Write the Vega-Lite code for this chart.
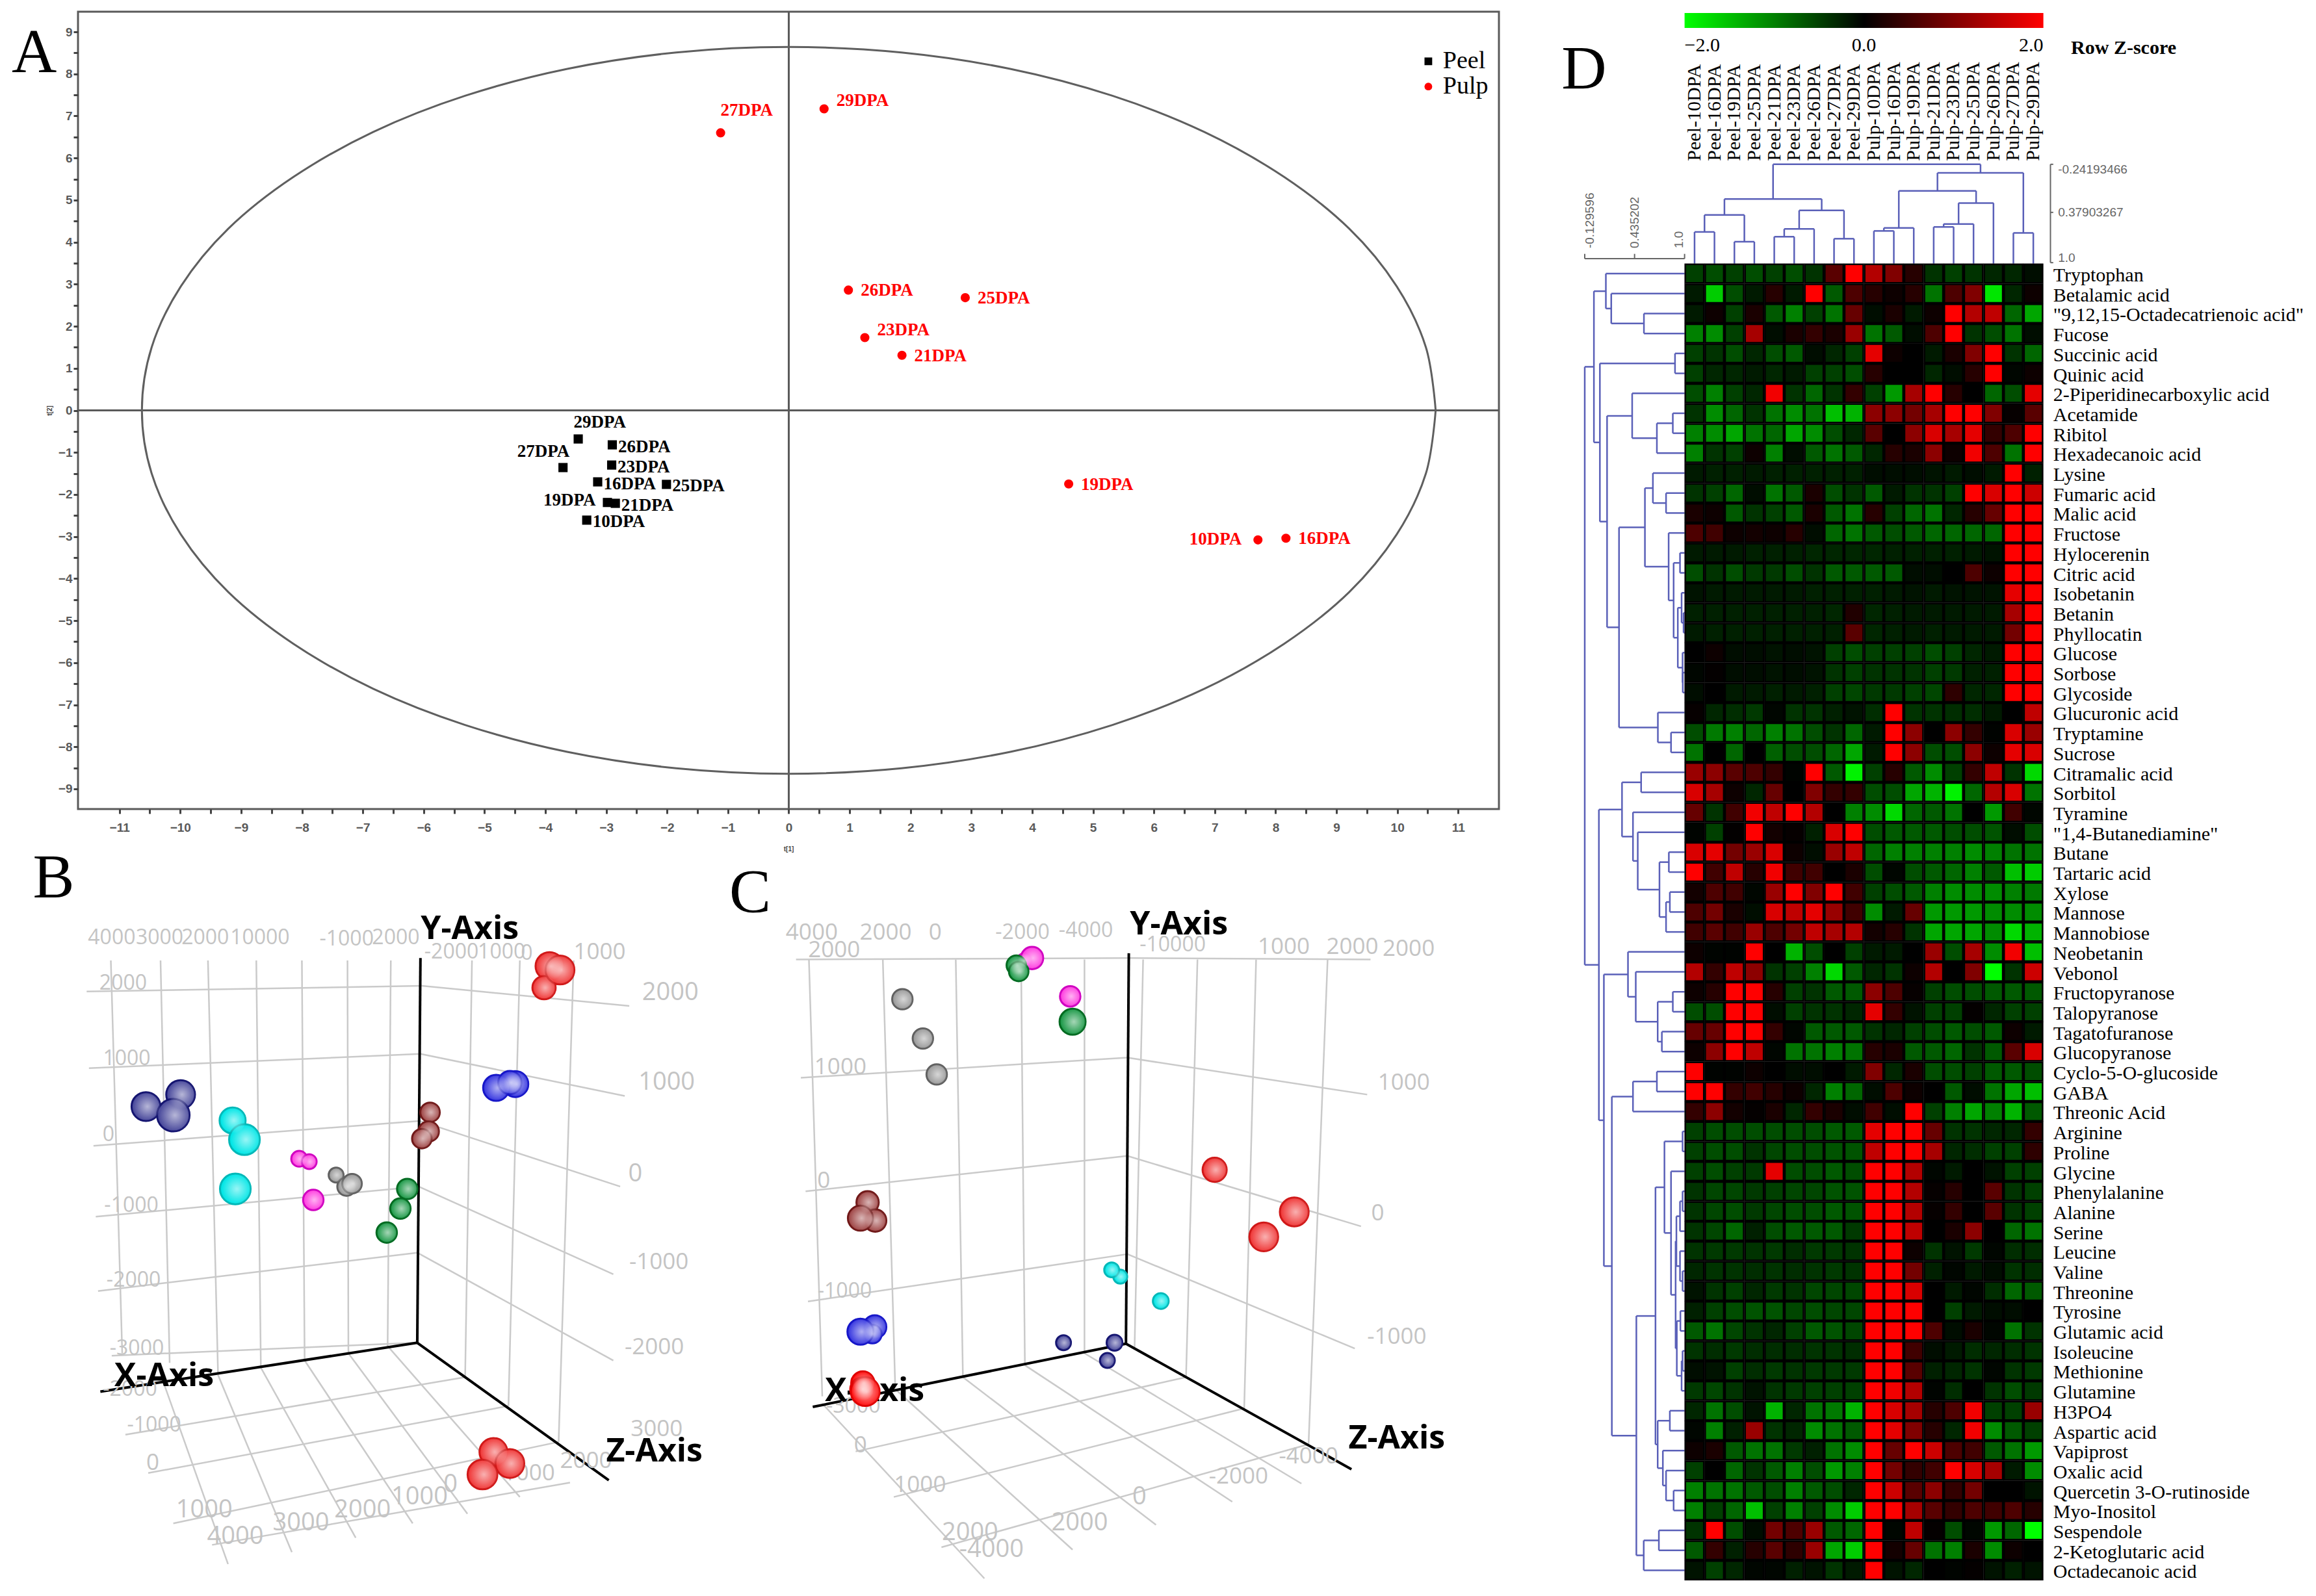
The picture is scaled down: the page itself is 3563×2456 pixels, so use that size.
{"$schema":"https://vega.github.io/schema/vega-lite/v6.json","padding":{"left":16,"top":15,"right":0,"bottom":0},"background":"white","config":{"view":{"stroke":null},"axis":{"grid":false}},
"datasets":{
"samples":[{"col":1,"name":"Peel-10DPA"},{"col":2,"name":"Peel-16DPA"},{"col":3,"name":"Peel-19DPA"},{"col":4,"name":"Peel-25DPA"},{"col":5,"name":"Peel-21DPA"},{"col":6,"name":"Peel-23DPA"},{"col":7,"name":"Peel-26DPA"},{"col":8,"name":"Peel-27DPA"},{"col":9,"name":"Peel-29DPA"},{"col":10,"name":"Pulp-10DPA"},{"col":11,"name":"Pulp-16DPA"},{"col":12,"name":"Pulp-19DPA"},{"col":13,"name":"Pulp-21DPA"},{"col":14,"name":"Pulp-23DPA"},{"col":15,"name":"Pulp-25DPA"},{"col":16,"name":"Pulp-26DPA"},{"col":17,"name":"Pulp-27DPA"},{"col":18,"name":"Pulp-29DPA"}],
"metabolites":[{"row":1,"name":"Tryptophan"},{"row":2,"name":"Betalamic acid"},{"row":3,"name":"\"9,12,15-Octadecatrienoic acid\""},{"row":4,"name":"Fucose"},{"row":5,"name":"Succinic acid"},{"row":6,"name":"Quinic acid"},{"row":7,"name":"2-Piperidinecarboxylic acid"},{"row":8,"name":"Acetamide"},{"row":9,"name":"Ribitol"},{"row":10,"name":"Hexadecanoic acid"},{"row":11,"name":"Lysine"},{"row":12,"name":"Fumaric acid"},{"row":13,"name":"Malic acid"},{"row":14,"name":"Fructose"},{"row":15,"name":"Hylocerenin"},{"row":16,"name":"Citric acid"},{"row":17,"name":"Isobetanin"},{"row":18,"name":"Betanin"},{"row":19,"name":"Phyllocatin"},{"row":20,"name":"Glucose"},{"row":21,"name":"Sorbose"},{"row":22,"name":"Glycoside"},{"row":23,"name":"Glucuronic acid"},{"row":24,"name":"Tryptamine"},{"row":25,"name":"Sucrose"},{"row":26,"name":"Citramalic acid"},{"row":27,"name":"Sorbitol"},{"row":28,"name":"Tyramine"},{"row":29,"name":"\"1,4-Butanediamine\""},{"row":30,"name":"Butane"},{"row":31,"name":"Tartaric acid"},{"row":32,"name":"Xylose"},{"row":33,"name":"Mannose"},{"row":34,"name":"Mannobiose"},{"row":35,"name":"Neobetanin"},{"row":36,"name":"Vebonol"},{"row":37,"name":"Fructopyranose"},{"row":38,"name":"Talopyranose"},{"row":39,"name":"Tagatofuranose"},{"row":40,"name":"Glucopyranose"},{"row":41,"name":"Cyclo-5-O-glucoside"},{"row":42,"name":"GABA"},{"row":43,"name":"Threonic Acid"},{"row":44,"name":"Arginine"},{"row":45,"name":"Proline"},{"row":46,"name":"Glycine"},{"row":47,"name":"Phenylalanine"},{"row":48,"name":"Alanine"},{"row":49,"name":"Serine"},{"row":50,"name":"Leucine"},{"row":51,"name":"Valine"},{"row":52,"name":"Threonine"},{"row":53,"name":"Tyrosine"},{"row":54,"name":"Glutamic acid"},{"row":55,"name":"Isoleucine"},{"row":56,"name":"Methionine"},{"row":57,"name":"Glutamine"},{"row":58,"name":"H3PO4"},{"row":59,"name":"Aspartic acid"},{"row":60,"name":"Vapiprost"},{"row":61,"name":"Oxalic acid"},{"row":62,"name":"Quercetin 3-O-rutinoside"},{"row":63,"name":"Myo-Inositol"},{"row":64,"name":"Sespendole"},{"row":65,"name":"2-Ketoglutaric acid"},{"row":66,"name":"Octadecanoic acid"}],
"rowTree":[{"m":-1.54,"a":3,"xa":0.5,"b":4,"xb":0.5},{"m":-3.18,"a":2,"xa":0.5,"b":3.5,"xb":-1.54},{"m":-3.45,"a":1,"xa":0.5,"b":2.75,"xb":-3.18},{"m":0.02,"a":5,"xa":0.5,"b":6,"xb":0.5},{"m":-0.09,"a":8,"xa":0.5,"b":9,"xb":0.5},{"m":-0.89,"a":8.5,"xa":-0.09,"b":10,"xb":0.5},{"m":-2.13,"a":7,"xa":0.5,"b":9.25,"xb":-0.89},{"m":-0.43,"a":12,"xa":0.5,"b":13,"xb":0.5},{"m":-1.09,"a":11,"xa":0.5,"b":12.5,"xb":-0.43},{"m":0.27,"a":15,"xa":0.5,"b":16,"xb":0.5},{"m":0.45,"a":18,"xa":0.5,"b":19,"xb":0.5},{"m":0.35,"a":17,"xa":0.5,"b":18.5,"xb":0.45},{"m":0.41,"a":21,"xa":0.5,"b":22,"xb":0.5},{"m":0.4,"a":20,"xa":0.5,"b":21.5,"xb":0.41},{"m":0.16,"a":17.75,"xa":0.35,"b":20.75,"xb":0.4},{"m":-0.05,"a":15.5,"xa":0.27,"b":19.25,"xb":0.16},{"m":-0.3,"a":14,"xa":0.5,"b":17.38,"xb":-0.05},{"m":-1.49,"a":11.75,"xa":-1.09,"b":15.69,"xb":-0.3},{"m":-0.18,"a":24,"xa":0.5,"b":25,"xb":0.5},{"m":-0.84,"a":23,"xa":0.5,"b":24.5,"xb":-0.18},{"m":-2.79,"a":13.72,"xa":-1.49,"b":23.75,"xb":-0.84},{"m":-3.39,"a":8.13,"xa":-2.13,"b":18.73,"xb":-2.79},{"m":-3.75,"a":5.5,"xa":0.02,"b":13.43,"xb":-3.39},{"m":-4.05,"a":1.88,"xa":-3.45,"b":9.46,"xb":-3.75},{"m":-1.68,"a":26,"xa":0.5,"b":27,"xb":0.5},{"m":-0.29,"a":30,"xa":0.5,"b":31,"xb":0.5},{"m":-0.24,"a":32,"xa":0.5,"b":33,"xb":0.5},{"m":-0.43,"a":32.5,"xa":-0.24,"b":34,"xb":0.5},{"m":-0.76,"a":30.5,"xa":-0.29,"b":33.25,"xb":-0.43},{"m":-1.85,"a":29,"xa":0.5,"b":31.88,"xb":-0.76},{"m":-2.09,"a":28,"xa":0.5,"b":30.44,"xb":-1.85},{"m":-2.64,"a":26.5,"xa":-1.68,"b":29.22,"xb":-2.09},{"m":-0.09,"a":37,"xa":0.5,"b":38,"xb":0.5},{"m":-0.64,"a":39,"xa":0.5,"b":40,"xb":0.5},{"m":-0.85,"a":37.5,"xa":-0.09,"b":39.5,"xb":-0.64},{"m":-1.95,"a":36,"xa":0.5,"b":38.5,"xb":-0.85},{"m":-2.34,"a":35,"xa":0.5,"b":37.25,"xb":-1.95},{"m":-0.89,"a":41,"xa":0.5,"b":42,"xb":0.5},{"m":-2.09,"a":41.5,"xa":-0.89,"b":43,"xb":0.5},{"m":0.4,"a":44,"xa":0.5,"b":45,"xb":0.5},{"m":0.4,"a":47,"xa":0.5,"b":48,"xb":0.5},{"m":0.27,"a":47.5,"xa":0.4,"b":49,"xb":0.5},{"m":0.4,"a":51,"xa":0.5,"b":52,"xb":0.5},{"m":0.27,"a":50,"xa":0.5,"b":51.5,"xb":0.4},{"m":0.09,"a":48.25,"xa":0.27,"b":50.75,"xb":0.27},{"m":0.29,"a":53,"xa":0.5,"b":54,"xb":0.5},{"m":0.4,"a":55,"xa":0.5,"b":56,"xb":0.5},{"m":0.35,"a":55.5,"xa":0.4,"b":57,"xb":0.5},{"m":0.11,"a":53.5,"xa":0.29,"b":56.25,"xb":0.35},{"m":0.05,"a":49.5,"xa":0.09,"b":54.88,"xb":0.11},{"m":-0.18,"a":46,"xa":0.5,"b":52.19,"xb":0.05},{"m":-0.51,"a":44.5,"xa":0.4,"b":49.09,"xb":-0.18},{"m":-0.24,"a":58,"xa":0.5,"b":59,"xb":0.5},{"m":-0.05,"a":62,"xa":0.5,"b":63,"xb":0.5},{"m":-0.43,"a":61,"xa":0.5,"b":62.5,"xb":-0.05},{"m":-0.59,"a":60,"xa":0.5,"b":61.75,"xb":-0.43},{"m":-0.85,"a":58.5,"xa":-0.24,"b":60.88,"xb":-0.59},{"m":-0.96,"a":46.8,"xa":-0.51,"b":59.69,"xb":-0.85},{"m":-0.79,"a":64,"xa":0.5,"b":65,"xb":0.5},{"m":-1.55,"a":64.5,"xa":-0.79,"b":66,"xb":0.5},{"m":-1.92,"a":53.25,"xa":-0.96,"b":65.25,"xb":-1.55},{"m":-3.15,"a":42.25,"xa":-2.09,"b":59.25,"xb":-1.92},{"m":-3.55,"a":36.13,"xa":-2.34,"b":50.75,"xb":-3.15},{"m":-3.8,"a":27.86,"xa":-2.64,"b":43.44,"xb":-3.55},{"m":-4.51,"a":5.67,"xa":-4.05,"b":35.65,"xb":-3.8}],
"colTree":[{"m":-1.09,"a":1,"ya":0.5,"b":2,"yb":0.5},{"m":-0.6,"a":3,"ya":0.5,"b":4,"yb":0.5},{"m":-1.94,"a":1.5,"ya":-1.09,"b":3.5,"yb":-0.6},{"m":-0.85,"a":5,"ya":0.5,"b":6,"yb":0.5},{"m":-1.24,"a":5.5,"ya":-0.85,"b":7,"yb":0.5},{"m":-0.75,"a":8,"ya":0.5,"b":9,"yb":0.5},{"m":-2.17,"a":6.25,"ya":-1.24,"b":8.5,"yb":-0.75},{"m":-2.74,"a":2.5,"ya":-1.94,"b":7.38,"yb":-2.17},{"m":-1.14,"a":10,"ya":0.5,"b":11,"yb":0.5},{"m":-1.29,"a":10.5,"ya":-1.14,"b":12,"yb":0.5},{"m":-1.34,"a":13,"ya":0.5,"b":14,"yb":0.5},{"m":-1.49,"a":13.5,"ya":-1.34,"b":15,"yb":0.5},{"m":-2.54,"a":14.25,"ya":-1.49,"b":16,"yb":0.5},{"m":-3.15,"a":11.25,"ya":-1.29,"b":15.13,"yb":-2.54},{"m":-1.04,"a":17,"ya":0.5,"b":18,"yb":0.5},{"m":-4.05,"a":13.19,"ya":-3.15,"b":17.5,"yb":-1.04},{"m":-4.48,"a":4.94,"ya":-2.74,"b":15.35,"yb":-4.05}],
"cells":[
{"row":1,"col":1,"z":-0.5},{"row":1,"col":2,"z":-0.6},{"row":1,"col":3,"z":-0.5},{"row":1,"col":4,"z":-0.6},{"row":1,"col":5,"z":-0.5},{"row":1,"col":6,"z":-0.6},{"row":1,"col":7,"z":-0.4},{"row":1,"col":8,"z":0.7},{"row":1,"col":9,"z":2},{"row":1,"col":10,"z":1.4},{"row":1,"col":11,"z":1},{"row":1,"col":12,"z":0.3},{"row":1,"col":13,"z":-0.4},{"row":1,"col":14,"z":-0.5},{"row":1,"col":15,"z":-0.4},{"row":1,"col":16,"z":-0.3},{"row":1,"col":17,"z":-0.3},{"row":1,"col":18,"z":-0.1},
{"row":2,"col":1,"z":-0.2},{"row":2,"col":2,"z":-1.6},{"row":2,"col":3,"z":-0.6},{"row":2,"col":4,"z":-0.2},{"row":2,"col":5,"z":0.3},{"row":2,"col":6,"z":-0.2},{"row":2,"col":7,"z":2},{"row":2,"col":8,"z":-0.7},{"row":2,"col":9,"z":0.6},{"row":2,"col":10,"z":0.3},{"row":2,"col":11,"z":0.1},{"row":2,"col":12,"z":0.3},{"row":2,"col":13,"z":-0.9},{"row":2,"col":14,"z":0.6},{"row":2,"col":15,"z":1},{"row":2,"col":16,"z":-1.8},{"row":2,"col":17,"z":-0.3},{"row":2,"col":18,"z":0.1},
{"row":3,"col":1,"z":-0.2},{"row":3,"col":2,"z":0.1},{"row":3,"col":3,"z":-0.5},{"row":3,"col":4,"z":0.2},{"row":3,"col":5,"z":-0.7},{"row":3,"col":6,"z":-1},{"row":3,"col":7,"z":-0.5},{"row":3,"col":8,"z":-0.9},{"row":3,"col":9,"z":0.8},{"row":3,"col":10,"z":-0.1},{"row":3,"col":11,"z":0.2},{"row":3,"col":12,"z":-0.2},{"row":3,"col":13,"z":0.1},{"row":3,"col":14,"z":2},{"row":3,"col":15,"z":1.4},{"row":3,"col":16,"z":1.5},{"row":3,"col":17,"z":-0.8},{"row":3,"col":18,"z":-1.3},
{"row":4,"col":1,"z":-1},{"row":4,"col":2,"z":-1.1},{"row":4,"col":3,"z":-0.5},{"row":4,"col":4,"z":1.3},{"row":4,"col":5,"z":-0.1},{"row":4,"col":6,"z":0.2},{"row":4,"col":7,"z":0.4},{"row":4,"col":8,"z":0.2},{"row":4,"col":9,"z":1.2},{"row":4,"col":10,"z":-0.9},{"row":4,"col":11,"z":-0.7},{"row":4,"col":12,"z":-0.1},{"row":4,"col":13,"z":0.6},{"row":4,"col":14,"z":2},{"row":4,"col":15,"z":-0.4},{"row":4,"col":16,"z":-0.6},{"row":4,"col":17,"z":-0.9},{"row":4,"col":18,"z":-0.1},
{"row":5,"col":1,"z":-0.5},{"row":5,"col":2,"z":-0.4},{"row":5,"col":3,"z":-0.6},{"row":5,"col":4,"z":-0.3},{"row":5,"col":5,"z":-0.6},{"row":5,"col":6,"z":-0.7},{"row":5,"col":7,"z":-0.1},{"row":5,"col":8,"z":-0.3},{"row":5,"col":9,"z":-0.5},{"row":5,"col":10,"z":1.8},{"row":5,"col":11,"z":0.1},{"row":5,"col":12,"z":0},{"row":5,"col":13,"z":-0.2},{"row":5,"col":14,"z":0.2},{"row":5,"col":15,"z":1},{"row":5,"col":16,"z":2},{"row":5,"col":17,"z":-0.4},{"row":5,"col":18,"z":-0.8},
{"row":6,"col":1,"z":-0.5},{"row":6,"col":2,"z":-0.3},{"row":6,"col":3,"z":-0.3},{"row":6,"col":4,"z":-0.2},{"row":6,"col":5,"z":-0.3},{"row":6,"col":6,"z":-0.2},{"row":6,"col":7,"z":-0.5},{"row":6,"col":8,"z":-0.5},{"row":6,"col":9,"z":-0.6},{"row":6,"col":10,"z":0.3},{"row":6,"col":11,"z":0},{"row":6,"col":12,"z":0},{"row":6,"col":13,"z":-0.3},{"row":6,"col":14,"z":-0.1},{"row":6,"col":15,"z":0.3},{"row":6,"col":16,"z":2},{"row":6,"col":17,"z":-0.05},{"row":6,"col":18,"z":0.1},
{"row":7,"col":1,"z":-0.6},{"row":7,"col":2,"z":-1},{"row":7,"col":3,"z":-0.5},{"row":7,"col":4,"z":-0.3},{"row":7,"col":5,"z":1.9},{"row":7,"col":6,"z":-0.4},{"row":7,"col":7,"z":-0.8},{"row":7,"col":8,"z":-0.4},{"row":7,"col":9,"z":0.4},{"row":7,"col":10,"z":-0.5},{"row":7,"col":11,"z":-1.2},{"row":7,"col":12,"z":1.3},{"row":7,"col":13,"z":2},{"row":7,"col":14,"z":0.3},{"row":7,"col":15,"z":0},{"row":7,"col":16,"z":-0.8},{"row":7,"col":17,"z":-0.6},{"row":7,"col":18,"z":1.8},
{"row":8,"col":1,"z":-0.4},{"row":8,"col":2,"z":-1.1},{"row":8,"col":3,"z":-0.8},{"row":8,"col":4,"z":-0.4},{"row":8,"col":5,"z":-0.9},{"row":8,"col":6,"z":-1.1},{"row":8,"col":7,"z":-0.9},{"row":8,"col":8,"z":-1.5},{"row":8,"col":9,"z":-1.4},{"row":8,"col":10,"z":1.1},{"row":8,"col":11,"z":1.1},{"row":8,"col":12,"z":0.9},{"row":8,"col":13,"z":1.3},{"row":8,"col":14,"z":2},{"row":8,"col":15,"z":2},{"row":8,"col":16,"z":1},{"row":8,"col":17,"z":0.05},{"row":8,"col":18,"z":0.7},
{"row":9,"col":1,"z":-1},{"row":9,"col":2,"z":-1.1},{"row":9,"col":3,"z":-1.3},{"row":9,"col":4,"z":-0.9},{"row":9,"col":5,"z":-0.8},{"row":9,"col":6,"z":-1.3},{"row":9,"col":7,"z":-1.1},{"row":9,"col":8,"z":-0.6},{"row":9,"col":9,"z":-0.3},{"row":9,"col":10,"z":0.7},{"row":9,"col":11,"z":0},{"row":9,"col":12,"z":1.1},{"row":9,"col":13,"z":1.7},{"row":9,"col":14,"z":1.3},{"row":9,"col":15,"z":1.8},{"row":9,"col":16,"z":0.4},{"row":9,"col":17,"z":0.6},{"row":9,"col":18,"z":2},
{"row":10,"col":1,"z":-1},{"row":10,"col":2,"z":-0.4},{"row":10,"col":3,"z":-0.5},{"row":10,"col":4,"z":0.1},{"row":10,"col":5,"z":-1},{"row":10,"col":6,"z":-0.1},{"row":10,"col":7,"z":-0.7},{"row":10,"col":8,"z":-0.9},{"row":10,"col":9,"z":-0.7},{"row":10,"col":10,"z":-0.3},{"row":10,"col":11,"z":0.3},{"row":10,"col":12,"z":0.2},{"row":10,"col":13,"z":1.1},{"row":10,"col":14,"z":0.1},{"row":10,"col":15,"z":1.9},{"row":10,"col":16,"z":0.6},{"row":10,"col":17,"z":-0.9},{"row":10,"col":18,"z":2},
{"row":11,"col":1,"z":-0.2},{"row":11,"col":2,"z":-0.25},{"row":11,"col":3,"z":-0.25},{"row":11,"col":4,"z":-0.2},{"row":11,"col":5,"z":-0.25},{"row":11,"col":6,"z":-0.25},{"row":11,"col":7,"z":-0.25},{"row":11,"col":8,"z":-0.25},{"row":11,"col":9,"z":-0.25},{"row":11,"col":10,"z":-0.1},{"row":11,"col":11,"z":-0.1},{"row":11,"col":12,"z":-0.1},{"row":11,"col":13,"z":-0.15},{"row":11,"col":14,"z":-0.2},{"row":11,"col":15,"z":-0.1},{"row":11,"col":16,"z":-0.2},{"row":11,"col":17,"z":2},{"row":11,"col":18,"z":-0.25},
{"row":12,"col":1,"z":-0.4},{"row":12,"col":2,"z":-0.5},{"row":12,"col":3,"z":-0.8},{"row":12,"col":4,"z":-0.1},{"row":12,"col":5,"z":-0.9},{"row":12,"col":6,"z":-0.7},{"row":12,"col":7,"z":0.2},{"row":12,"col":8,"z":-0.6},{"row":12,"col":9,"z":-0.4},{"row":12,"col":10,"z":-0.7},{"row":12,"col":11,"z":-0.2},{"row":12,"col":12,"z":-0.4},{"row":12,"col":13,"z":-0.4},{"row":12,"col":14,"z":-0.5},{"row":12,"col":15,"z":2},{"row":12,"col":16,"z":1.7},{"row":12,"col":17,"z":2},{"row":12,"col":18,"z":1.6},
{"row":13,"col":1,"z":0.2},{"row":13,"col":2,"z":0.1},{"row":13,"col":3,"z":-0.7},{"row":13,"col":4,"z":-0.4},{"row":13,"col":5,"z":-0.5},{"row":13,"col":6,"z":-0.7},{"row":13,"col":7,"z":0.2},{"row":13,"col":8,"z":-0.7},{"row":13,"col":9,"z":-0.9},{"row":13,"col":10,"z":0.3},{"row":13,"col":11,"z":-0.5},{"row":13,"col":12,"z":-0.8},{"row":13,"col":13,"z":-0.9},{"row":13,"col":14,"z":-0.3},{"row":13,"col":15,"z":0.3},{"row":13,"col":16,"z":0.8},{"row":13,"col":17,"z":2},{"row":13,"col":18,"z":2},
{"row":14,"col":1,"z":0.6},{"row":14,"col":2,"z":0.5},{"row":14,"col":3,"z":0.1},{"row":14,"col":4,"z":0.15},{"row":14,"col":5,"z":0.1},{"row":14,"col":6,"z":0.3},{"row":14,"col":7,"z":-0.1},{"row":14,"col":8,"z":-0.8},{"row":14,"col":9,"z":-0.9},{"row":14,"col":10,"z":-0.7},{"row":14,"col":11,"z":-0.6},{"row":14,"col":12,"z":-0.7},{"row":14,"col":13,"z":-0.8},{"row":14,"col":14,"z":-0.8},{"row":14,"col":15,"z":-0.8},{"row":14,"col":16,"z":-0.8},{"row":14,"col":17,"z":2},{"row":14,"col":18,"z":2},
{"row":15,"col":1,"z":-0.2},{"row":15,"col":2,"z":-0.2},{"row":15,"col":3,"z":-0.2},{"row":15,"col":4,"z":-0.25},{"row":15,"col":5,"z":-0.25},{"row":15,"col":6,"z":-0.25},{"row":15,"col":7,"z":-0.3},{"row":15,"col":8,"z":-0.3},{"row":15,"col":9,"z":-0.3},{"row":15,"col":10,"z":-0.3},{"row":15,"col":11,"z":-0.25},{"row":15,"col":12,"z":-0.25},{"row":15,"col":13,"z":-0.25},{"row":15,"col":14,"z":-0.25},{"row":15,"col":15,"z":-0.2},{"row":15,"col":16,"z":-0.15},{"row":15,"col":17,"z":2},{"row":15,"col":18,"z":2},
{"row":16,"col":1,"z":-0.6},{"row":16,"col":2,"z":-0.4},{"row":16,"col":3,"z":-0.6},{"row":16,"col":4,"z":-0.45},{"row":16,"col":5,"z":-0.45},{"row":16,"col":6,"z":-0.6},{"row":16,"col":7,"z":-0.4},{"row":16,"col":8,"z":-0.7},{"row":16,"col":9,"z":-0.7},{"row":16,"col":10,"z":-0.7},{"row":16,"col":11,"z":-0.7},{"row":16,"col":12,"z":-0.1},{"row":16,"col":13,"z":-0.1},{"row":16,"col":14,"z":0},{"row":16,"col":15,"z":0.6},{"row":16,"col":16,"z":0.1},{"row":16,"col":17,"z":2},{"row":16,"col":18,"z":2},
{"row":17,"col":1,"z":-0.15},{"row":17,"col":2,"z":-0.2},{"row":17,"col":3,"z":-0.2},{"row":17,"col":4,"z":-0.2},{"row":17,"col":5,"z":-0.2},{"row":17,"col":6,"z":-0.2},{"row":17,"col":7,"z":-0.25},{"row":17,"col":8,"z":-0.25},{"row":17,"col":9,"z":-0.25},{"row":17,"col":10,"z":-0.25},{"row":17,"col":11,"z":-0.2},{"row":17,"col":12,"z":-0.15},{"row":17,"col":13,"z":-0.2},{"row":17,"col":14,"z":-0.15},{"row":17,"col":15,"z":-0.15},{"row":17,"col":16,"z":-0.15},{"row":17,"col":17,"z":1.8},{"row":17,"col":18,"z":2},
{"row":18,"col":1,"z":-0.25},{"row":18,"col":2,"z":-0.25},{"row":18,"col":3,"z":-0.25},{"row":18,"col":4,"z":-0.25},{"row":18,"col":5,"z":-0.25},{"row":18,"col":6,"z":-0.25},{"row":18,"col":7,"z":-0.25},{"row":18,"col":8,"z":-0.3},{"row":18,"col":9,"z":0.25},{"row":18,"col":10,"z":-0.3},{"row":18,"col":11,"z":-0.25},{"row":18,"col":12,"z":-0.2},{"row":18,"col":13,"z":-0.2},{"row":18,"col":14,"z":-0.2},{"row":18,"col":15,"z":-0.2},{"row":18,"col":16,"z":-0.2},{"row":18,"col":17,"z":1.3},{"row":18,"col":18,"z":2},
{"row":19,"col":1,"z":-0.2},{"row":19,"col":2,"z":-0.25},{"row":19,"col":3,"z":-0.25},{"row":19,"col":4,"z":-0.25},{"row":19,"col":5,"z":-0.25},{"row":19,"col":6,"z":-0.25},{"row":19,"col":7,"z":-0.25},{"row":19,"col":8,"z":-0.25},{"row":19,"col":9,"z":0.7},{"row":19,"col":10,"z":-0.3},{"row":19,"col":11,"z":-0.25},{"row":19,"col":12,"z":-0.2},{"row":19,"col":13,"z":-0.25},{"row":19,"col":14,"z":-0.2},{"row":19,"col":15,"z":-0.2},{"row":19,"col":16,"z":-0.2},{"row":19,"col":17,"z":0.9},{"row":19,"col":18,"z":2},
{"row":20,"col":1,"z":0},{"row":20,"col":2,"z":0.1},{"row":20,"col":3,"z":-0.1},{"row":20,"col":4,"z":-0.1},{"row":20,"col":5,"z":-0.15},{"row":20,"col":6,"z":-0.1},{"row":20,"col":7,"z":-0.15},{"row":20,"col":8,"z":-0.5},{"row":20,"col":9,"z":-0.6},{"row":20,"col":10,"z":-0.5},{"row":20,"col":11,"z":-0.5},{"row":20,"col":12,"z":-0.5},{"row":20,"col":13,"z":-0.6},{"row":20,"col":14,"z":-0.5},{"row":20,"col":15,"z":-0.3},{"row":20,"col":16,"z":-0.2},{"row":20,"col":17,"z":2},{"row":20,"col":18,"z":2},
{"row":21,"col":1,"z":-0.05},{"row":21,"col":2,"z":0.03},{"row":21,"col":3,"z":-0.1},{"row":21,"col":4,"z":-0.1},{"row":21,"col":5,"z":-0.15},{"row":21,"col":6,"z":-0.1},{"row":21,"col":7,"z":-0.15},{"row":21,"col":8,"z":-0.4},{"row":21,"col":9,"z":-0.5},{"row":21,"col":10,"z":-0.4},{"row":21,"col":11,"z":-0.4},{"row":21,"col":12,"z":-0.4},{"row":21,"col":13,"z":-0.5},{"row":21,"col":14,"z":-0.45},{"row":21,"col":15,"z":-0.25},{"row":21,"col":16,"z":-0.25},{"row":21,"col":17,"z":2},{"row":21,"col":18,"z":2},
{"row":22,"col":1,"z":-0.1},{"row":22,"col":2,"z":0},{"row":22,"col":3,"z":-0.2},{"row":22,"col":4,"z":-0.2},{"row":22,"col":5,"z":-0.25},{"row":22,"col":6,"z":-0.2},{"row":22,"col":7,"z":-0.25},{"row":22,"col":8,"z":-0.5},{"row":22,"col":9,"z":-0.55},{"row":22,"col":10,"z":-0.45},{"row":22,"col":11,"z":-0.45},{"row":22,"col":12,"z":-0.5},{"row":22,"col":13,"z":-0.55},{"row":22,"col":14,"z":0.35},{"row":22,"col":15,"z":-0.3},{"row":22,"col":16,"z":-0.3},{"row":22,"col":17,"z":2},{"row":22,"col":18,"z":2},
{"row":23,"col":1,"z":0.05},{"row":23,"col":2,"z":-0.3},{"row":23,"col":3,"z":-0.35},{"row":23,"col":4,"z":-0.45},{"row":23,"col":5,"z":-0.05},{"row":23,"col":6,"z":-0.4},{"row":23,"col":7,"z":-0.4},{"row":23,"col":8,"z":-0.25},{"row":23,"col":9,"z":-0.15},{"row":23,"col":10,"z":-0.35},{"row":23,"col":11,"z":2},{"row":23,"col":12,"z":-0.4},{"row":23,"col":13,"z":-0.4},{"row":23,"col":14,"z":-0.35},{"row":23,"col":15,"z":-0.35},{"row":23,"col":16,"z":-0.2},{"row":23,"col":17,"z":0},{"row":23,"col":18,"z":1.5},
{"row":24,"col":1,"z":-0.6},{"row":24,"col":2,"z":-0.95},{"row":24,"col":3,"z":-1},{"row":24,"col":4,"z":-0.8},{"row":24,"col":5,"z":-1},{"row":24,"col":6,"z":-0.9},{"row":24,"col":7,"z":-0.6},{"row":24,"col":8,"z":-0.4},{"row":24,"col":9,"z":-0.8},{"row":24,"col":10,"z":-0.2},{"row":24,"col":11,"z":2},{"row":24,"col":12,"z":1.1},{"row":24,"col":13,"z":0},{"row":24,"col":14,"z":1.1},{"row":24,"col":15,"z":0.4},{"row":24,"col":16,"z":-0.02},{"row":24,"col":17,"z":1.7},{"row":24,"col":18,"z":1.2},
{"row":25,"col":1,"z":-0.9},{"row":25,"col":2,"z":0},{"row":25,"col":3,"z":-0.8},{"row":25,"col":4,"z":0},{"row":25,"col":5,"z":-0.75},{"row":25,"col":6,"z":-0.6},{"row":25,"col":7,"z":-0.6},{"row":25,"col":8,"z":-0.8},{"row":25,"col":9,"z":-1.3},{"row":25,"col":10,"z":-0.2},{"row":25,"col":11,"z":2},{"row":25,"col":12,"z":1.1},{"row":25,"col":13,"z":-0.6},{"row":25,"col":14,"z":-0.6},{"row":25,"col":15,"z":1.1},{"row":25,"col":16,"z":0.1},{"row":25,"col":17,"z":1.8},{"row":25,"col":18,"z":1.7},
{"row":26,"col":1,"z":1.2},{"row":26,"col":2,"z":1.1},{"row":26,"col":3,"z":0.7},{"row":26,"col":4,"z":0.6},{"row":26,"col":5,"z":0.4},{"row":26,"col":6,"z":-0.03},{"row":26,"col":7,"z":2},{"row":26,"col":8,"z":-0.7},{"row":26,"col":9,"z":-1.9},{"row":26,"col":10,"z":-0.5},{"row":26,"col":11,"z":0.3},{"row":26,"col":12,"z":-0.7},{"row":26,"col":13,"z":-1.1},{"row":26,"col":14,"z":-0.5},{"row":26,"col":15,"z":0.4},{"row":26,"col":16,"z":1.5},{"row":26,"col":17,"z":-0.4},{"row":26,"col":18,"z":-1.7},
{"row":27,"col":1,"z":1.7},{"row":27,"col":2,"z":1.3},{"row":27,"col":3,"z":0.1},{"row":27,"col":4,"z":-0.3},{"row":27,"col":5,"z":0.8},{"row":27,"col":6,"z":0},{"row":27,"col":7,"z":1},{"row":27,"col":8,"z":0.4},{"row":27,"col":9,"z":0.4},{"row":27,"col":10,"z":-0.6},{"row":27,"col":11,"z":-0.6},{"row":27,"col":12,"z":-1.3},{"row":27,"col":13,"z":-1.4},{"row":27,"col":14,"z":-1.9},{"row":27,"col":15,"z":-0.8},{"row":27,"col":16,"z":1.4},{"row":27,"col":17,"z":1.7},{"row":27,"col":18,"z":-0.9},
{"row":28,"col":1,"z":0.8},{"row":28,"col":2,"z":-0.4},{"row":28,"col":3,"z":0.5},{"row":28,"col":4,"z":1.9},{"row":28,"col":5,"z":1.5},{"row":28,"col":6,"z":2},{"row":28,"col":7,"z":1.4},{"row":28,"col":8,"z":0},{"row":28,"col":9,"z":-1},{"row":28,"col":10,"z":-1.1},{"row":28,"col":11,"z":-1.7},{"row":28,"col":12,"z":-0.8},{"row":28,"col":13,"z":-0.7},{"row":28,"col":14,"z":-0.9},{"row":28,"col":15,"z":0},{"row":28,"col":16,"z":-1.2},{"row":28,"col":17,"z":0.5},{"row":28,"col":18,"z":-0.05},
{"row":29,"col":1,"z":-0.03},{"row":29,"col":2,"z":-0.5},{"row":29,"col":3,"z":0.02},{"row":29,"col":4,"z":2},{"row":29,"col":5,"z":0.15},{"row":29,"col":6,"z":0.05},{"row":29,"col":7,"z":-0.25},{"row":29,"col":8,"z":1.7},{"row":29,"col":9,"z":2},{"row":29,"col":10,"z":-0.6},{"row":29,"col":11,"z":-0.7},{"row":29,"col":12,"z":-0.7},{"row":29,"col":13,"z":-0.7},{"row":29,"col":14,"z":-0.6},{"row":29,"col":15,"z":-0.6},{"row":29,"col":16,"z":-0.65},{"row":29,"col":17,"z":-0.1},{"row":29,"col":18,"z":-0.6},
{"row":30,"col":1,"z":1.7},{"row":30,"col":2,"z":1.8},{"row":30,"col":3,"z":0.9},{"row":30,"col":4,"z":1.2},{"row":30,"col":5,"z":1.7},{"row":30,"col":6,"z":0.1},{"row":30,"col":7,"z":-0.1},{"row":30,"col":8,"z":1.2},{"row":30,"col":9,"z":1.5},{"row":30,"col":10,"z":-0.8},{"row":30,"col":11,"z":-1},{"row":30,"col":12,"z":-1},{"row":30,"col":13,"z":-1},{"row":30,"col":14,"z":-1},{"row":30,"col":15,"z":-1.1},{"row":30,"col":16,"z":-1},{"row":30,"col":17,"z":-0.9},{"row":30,"col":18,"z":-0.9},
{"row":31,"col":1,"z":2},{"row":31,"col":2,"z":0.5},{"row":31,"col":3,"z":1.5},{"row":31,"col":4,"z":0.3},{"row":31,"col":5,"z":1.9},{"row":31,"col":6,"z":0.5},{"row":31,"col":7,"z":0.5},{"row":31,"col":8,"z":0},{"row":31,"col":9,"z":0.2},{"row":31,"col":10,"z":-0.6},{"row":31,"col":11,"z":-0.05},{"row":31,"col":12,"z":-0.6},{"row":31,"col":13,"z":-0.7},{"row":31,"col":14,"z":-0.8},{"row":31,"col":15,"z":-1},{"row":31,"col":16,"z":-0.7},{"row":31,"col":17,"z":-1.5},{"row":31,"col":18,"z":-1.6},
{"row":32,"col":1,"z":0.15},{"row":32,"col":2,"z":0.6},{"row":32,"col":3,"z":0.5},{"row":32,"col":4,"z":-0.05},{"row":32,"col":5,"z":1.2},{"row":32,"col":6,"z":2},{"row":32,"col":7,"z":1},{"row":32,"col":8,"z":2},{"row":32,"col":9,"z":0.5},{"row":32,"col":10,"z":-0.5},{"row":32,"col":11,"z":-0.6},{"row":32,"col":12,"z":-0.7},{"row":32,"col":13,"z":-1},{"row":32,"col":14,"z":-1.1},{"row":32,"col":15,"z":-1.1},{"row":32,"col":16,"z":-1.1},{"row":32,"col":17,"z":-1},{"row":32,"col":18,"z":-0.95},
{"row":33,"col":1,"z":0.6},{"row":33,"col":2,"z":0.9},{"row":33,"col":3,"z":0.2},{"row":33,"col":4,"z":-0.1},{"row":33,"col":5,"z":1.7},{"row":33,"col":6,"z":1.5},{"row":33,"col":7,"z":1.8},{"row":33,"col":8,"z":1.2},{"row":33,"col":9,"z":0.5},{"row":33,"col":10,"z":-1.1},{"row":33,"col":11,"z":-0.2},{"row":33,"col":12,"z":0.8},{"row":33,"col":13,"z":-1.2},{"row":33,"col":14,"z":-1.2},{"row":33,"col":15,"z":-1.2},{"row":33,"col":16,"z":-1.1},{"row":33,"col":17,"z":-1.1},{"row":33,"col":18,"z":-1.1},
{"row":34,"col":1,"z":0.5},{"row":34,"col":2,"z":0.7},{"row":34,"col":3,"z":0.5},{"row":34,"col":4,"z":1.2},{"row":34,"col":5,"z":0.6},{"row":34,"col":6,"z":0.9},{"row":34,"col":7,"z":1.5},{"row":34,"col":8,"z":1.3},{"row":34,"col":9,"z":1.4},{"row":34,"col":10,"z":0.15},{"row":34,"col":11,"z":0.3},{"row":34,"col":12,"z":-0.4},{"row":34,"col":13,"z":-1.3},{"row":34,"col":14,"z":-1.3},{"row":34,"col":15,"z":-1.3},{"row":34,"col":16,"z":-1.1},{"row":34,"col":17,"z":-1.7},{"row":34,"col":18,"z":-1.4},
{"row":35,"col":1,"z":0.1},{"row":35,"col":2,"z":-0.03},{"row":35,"col":3,"z":-0.02},{"row":35,"col":4,"z":2},{"row":35,"col":5,"z":0},{"row":35,"col":6,"z":-1.4},{"row":35,"col":7,"z":-0.6},{"row":35,"col":8,"z":0},{"row":35,"col":9,"z":-0.5},{"row":35,"col":10,"z":-0.2},{"row":35,"col":11,"z":-0.2},{"row":35,"col":12,"z":0},{"row":35,"col":13,"z":1.2},{"row":35,"col":14,"z":-0.6},{"row":35,"col":15,"z":1.3},{"row":35,"col":16,"z":-1.1},{"row":35,"col":17,"z":1.9},{"row":35,"col":18,"z":-1.5},
{"row":36,"col":1,"z":1.4},{"row":36,"col":2,"z":0.4},{"row":36,"col":3,"z":1.5},{"row":36,"col":4,"z":1.1},{"row":36,"col":5,"z":-0.4},{"row":36,"col":6,"z":-0.5},{"row":36,"col":7,"z":-1},{"row":36,"col":8,"z":-1.7},{"row":36,"col":9,"z":-0.7},{"row":36,"col":10,"z":-0.3},{"row":36,"col":11,"z":-0.4},{"row":36,"col":12,"z":0.1},{"row":36,"col":13,"z":1.4},{"row":36,"col":14,"z":0},{"row":36,"col":15,"z":1},{"row":36,"col":16,"z":-2},{"row":36,"col":17,"z":-0.4},{"row":36,"col":18,"z":1.6},
{"row":37,"col":1,"z":0.1},{"row":37,"col":2,"z":0.3},{"row":37,"col":3,"z":2},{"row":37,"col":4,"z":2},{"row":37,"col":5,"z":0.3},{"row":37,"col":6,"z":-0.5},{"row":37,"col":7,"z":-0.4},{"row":37,"col":8,"z":-0.7},{"row":37,"col":9,"z":-0.7},{"row":37,"col":10,"z":1.1},{"row":37,"col":11,"z":0.6},{"row":37,"col":12,"z":0.05},{"row":37,"col":13,"z":-0.5},{"row":37,"col":14,"z":-0.6},{"row":37,"col":15,"z":-0.6},{"row":37,"col":16,"z":-0.7},{"row":37,"col":17,"z":-0.7},{"row":37,"col":18,"z":-0.7},
{"row":38,"col":1,"z":-0.6},{"row":38,"col":2,"z":-0.6},{"row":38,"col":3,"z":2},{"row":38,"col":4,"z":2},{"row":38,"col":5,"z":-0.1},{"row":38,"col":6,"z":-0.5},{"row":38,"col":7,"z":-0.4},{"row":38,"col":8,"z":-0.4},{"row":38,"col":9,"z":-0.3},{"row":38,"col":10,"z":1.8},{"row":38,"col":11,"z":0.4},{"row":38,"col":12,"z":-0.15},{"row":38,"col":13,"z":-0.5},{"row":38,"col":14,"z":-0.5},{"row":38,"col":15,"z":0.03},{"row":38,"col":16,"z":-0.3},{"row":38,"col":17,"z":-0.5},{"row":38,"col":18,"z":-0.5},
{"row":39,"col":1,"z":0.8},{"row":39,"col":2,"z":0.8},{"row":39,"col":3,"z":2},{"row":39,"col":4,"z":2},{"row":39,"col":5,"z":0.4},{"row":39,"col":6,"z":-0.05},{"row":39,"col":7,"z":-0.7},{"row":39,"col":8,"z":-0.7},{"row":39,"col":9,"z":-0.7},{"row":39,"col":10,"z":-0.4},{"row":39,"col":11,"z":-0.3},{"row":39,"col":12,"z":-0.5},{"row":39,"col":13,"z":-0.6},{"row":39,"col":14,"z":-0.7},{"row":39,"col":15,"z":-0.6},{"row":39,"col":16,"z":-0.7},{"row":39,"col":17,"z":0.1},{"row":39,"col":18,"z":-0.2},
{"row":40,"col":1,"z":0.1},{"row":40,"col":2,"z":1.1},{"row":40,"col":3,"z":2},{"row":40,"col":4,"z":1.5},{"row":40,"col":5,"z":-0.05},{"row":40,"col":6,"z":-0.9},{"row":40,"col":7,"z":-0.9},{"row":40,"col":8,"z":-1},{"row":40,"col":9,"z":-0.9},{"row":40,"col":10,"z":0.3},{"row":40,"col":11,"z":0.2},{"row":40,"col":12,"z":-0.7},{"row":40,"col":13,"z":-0.7},{"row":40,"col":14,"z":-0.8},{"row":40,"col":15,"z":-0.4},{"row":40,"col":16,"z":-0.7},{"row":40,"col":17,"z":0.7},{"row":40,"col":18,"z":1.7},
{"row":41,"col":1,"z":2},{"row":41,"col":2,"z":-0.02},{"row":41,"col":3,"z":-0.02},{"row":41,"col":4,"z":0.1},{"row":41,"col":5,"z":0},{"row":41,"col":6,"z":-0.1},{"row":41,"col":7,"z":-0.1},{"row":41,"col":8,"z":0},{"row":41,"col":9,"z":-0.2},{"row":41,"col":10,"z":1},{"row":41,"col":11,"z":-0.3},{"row":41,"col":12,"z":0.2},{"row":41,"col":13,"z":-0.6},{"row":41,"col":14,"z":-0.6},{"row":41,"col":15,"z":-0.5},{"row":41,"col":16,"z":-0.7},{"row":41,"col":17,"z":-0.7},{"row":41,"col":18,"z":-0.6},
{"row":42,"col":1,"z":2},{"row":42,"col":2,"z":2},{"row":42,"col":3,"z":0.4},{"row":42,"col":4,"z":0.5},{"row":42,"col":5,"z":0.3},{"row":42,"col":6,"z":0.1},{"row":42,"col":7,"z":-0.3},{"row":42,"col":8,"z":-1},{"row":42,"col":9,"z":-0.8},{"row":42,"col":10,"z":-0.1},{"row":42,"col":11,"z":0.6},{"row":42,"col":12,"z":0.1},{"row":42,"col":13,"z":0},{"row":42,"col":14,"z":-0.7},{"row":42,"col":15,"z":-0.1},{"row":42,"col":16,"z":-0.9},{"row":42,"col":17,"z":-1.3},{"row":42,"col":18,"z":-1.5},
{"row":43,"col":1,"z":0.4},{"row":43,"col":2,"z":1.1},{"row":43,"col":3,"z":0.15},{"row":43,"col":4,"z":0.03},{"row":43,"col":5,"z":0.2},{"row":43,"col":6,"z":-0.3},{"row":43,"col":7,"z":0.4},{"row":43,"col":8,"z":0.2},{"row":43,"col":9,"z":-0.1},{"row":43,"col":10,"z":0.5},{"row":43,"col":11,"z":-0.1},{"row":43,"col":12,"z":2},{"row":43,"col":13,"z":-0.5},{"row":43,"col":14,"z":-1},{"row":43,"col":15,"z":-1.3},{"row":43,"col":16,"z":-1},{"row":43,"col":17,"z":-1.4},{"row":43,"col":18,"z":-0.7},
{"row":44,"col":1,"z":-0.5},{"row":44,"col":2,"z":-0.6},{"row":44,"col":3,"z":-0.6},{"row":44,"col":4,"z":-0.6},{"row":44,"col":5,"z":-0.6},{"row":44,"col":6,"z":-0.6},{"row":44,"col":7,"z":-0.6},{"row":44,"col":8,"z":-0.7},{"row":44,"col":9,"z":-0.7},{"row":44,"col":10,"z":1.8},{"row":44,"col":11,"z":2},{"row":44,"col":12,"z":2},{"row":44,"col":13,"z":0.8},{"row":44,"col":14,"z":-0.4},{"row":44,"col":15,"z":-0.4},{"row":44,"col":16,"z":-0.3},{"row":44,"col":17,"z":-0.3},{"row":44,"col":18,"z":0.4},
{"row":45,"col":1,"z":-0.5},{"row":45,"col":2,"z":-0.6},{"row":45,"col":3,"z":-0.6},{"row":45,"col":4,"z":-0.4},{"row":45,"col":5,"z":-0.55},{"row":45,"col":6,"z":-0.6},{"row":45,"col":7,"z":-0.6},{"row":45,"col":8,"z":-0.65},{"row":45,"col":9,"z":-0.65},{"row":45,"col":10,"z":1.5},{"row":45,"col":11,"z":2},{"row":45,"col":12,"z":2},{"row":45,"col":13,"z":1.3},{"row":45,"col":14,"z":-0.3},{"row":45,"col":15,"z":-0.35},{"row":45,"col":16,"z":-0.5},{"row":45,"col":17,"z":-0.5},{"row":45,"col":18,"z":0.35},
{"row":46,"col":1,"z":-0.5},{"row":46,"col":2,"z":-0.6},{"row":46,"col":3,"z":-0.5},{"row":46,"col":4,"z":-0.45},{"row":46,"col":5,"z":1.8},{"row":46,"col":6,"z":-0.6},{"row":46,"col":7,"z":-0.6},{"row":46,"col":8,"z":-0.7},{"row":46,"col":9,"z":-0.6},{"row":46,"col":10,"z":2},{"row":46,"col":11,"z":2},{"row":46,"col":12,"z":1.4},{"row":46,"col":13,"z":-0.05},{"row":46,"col":14,"z":-0.2},{"row":46,"col":15,"z":0},{"row":46,"col":16,"z":-0.15},{"row":46,"col":17,"z":-0.5},{"row":46,"col":18,"z":-0.5},
{"row":47,"col":1,"z":-0.4},{"row":47,"col":2,"z":-0.55},{"row":47,"col":3,"z":-0.55},{"row":47,"col":4,"z":-0.45},{"row":47,"col":5,"z":-0.5},{"row":47,"col":6,"z":-0.55},{"row":47,"col":7,"z":-0.55},{"row":47,"col":8,"z":-0.65},{"row":47,"col":9,"z":-0.65},{"row":47,"col":10,"z":2},{"row":47,"col":11,"z":2},{"row":47,"col":12,"z":1.4},{"row":47,"col":13,"z":0.05},{"row":47,"col":14,"z":0.3},{"row":47,"col":15,"z":0},{"row":47,"col":16,"z":0.7},{"row":47,"col":17,"z":-0.4},{"row":47,"col":18,"z":-0.5},
{"row":48,"col":1,"z":-0.4},{"row":48,"col":2,"z":-0.55},{"row":48,"col":3,"z":-0.6},{"row":48,"col":4,"z":-0.45},{"row":48,"col":5,"z":-0.55},{"row":48,"col":6,"z":-0.6},{"row":48,"col":7,"z":-0.6},{"row":48,"col":8,"z":-0.7},{"row":48,"col":9,"z":-0.65},{"row":48,"col":10,"z":2},{"row":48,"col":11,"z":2},{"row":48,"col":12,"z":1.4},{"row":48,"col":13,"z":0.05},{"row":48,"col":14,"z":0.4},{"row":48,"col":15,"z":0},{"row":48,"col":16,"z":0.7},{"row":48,"col":17,"z":-0.4},{"row":48,"col":18,"z":-0.5},
{"row":49,"col":1,"z":-0.4},{"row":49,"col":2,"z":-0.55},{"row":49,"col":3,"z":-0.8},{"row":49,"col":4,"z":-0.25},{"row":49,"col":5,"z":-0.6},{"row":49,"col":6,"z":-0.7},{"row":49,"col":7,"z":-0.7},{"row":49,"col":8,"z":-0.7},{"row":49,"col":9,"z":-0.45},{"row":49,"col":10,"z":2},{"row":49,"col":11,"z":2},{"row":49,"col":12,"z":1.5},{"row":49,"col":13,"z":0},{"row":49,"col":14,"z":0.2},{"row":49,"col":15,"z":1.1},{"row":49,"col":16,"z":0},{"row":49,"col":17,"z":-0.8},{"row":49,"col":18,"z":-0.9},
{"row":50,"col":1,"z":-0.4},{"row":50,"col":2,"z":-0.45},{"row":50,"col":3,"z":-0.45},{"row":50,"col":4,"z":-0.4},{"row":50,"col":5,"z":-0.45},{"row":50,"col":6,"z":-0.35},{"row":50,"col":7,"z":-0.45},{"row":50,"col":8,"z":-0.45},{"row":50,"col":9,"z":-0.4},{"row":50,"col":10,"z":2},{"row":50,"col":11,"z":2},{"row":50,"col":12,"z":0.1},{"row":50,"col":13,"z":-0.4},{"row":50,"col":14,"z":-0.15},{"row":50,"col":15,"z":-0.45},{"row":50,"col":16,"z":-0.05},{"row":50,"col":17,"z":-0.35},{"row":50,"col":18,"z":-0.35},
{"row":51,"col":1,"z":-0.3},{"row":51,"col":2,"z":-0.4},{"row":51,"col":3,"z":-0.4},{"row":51,"col":4,"z":-0.35},{"row":51,"col":5,"z":-0.4},{"row":51,"col":6,"z":-0.35},{"row":51,"col":7,"z":-0.4},{"row":51,"col":8,"z":-0.45},{"row":51,"col":9,"z":-0.4},{"row":51,"col":10,"z":2},{"row":51,"col":11,"z":2},{"row":51,"col":12,"z":0.9},{"row":51,"col":13,"z":-0.25},{"row":51,"col":14,"z":-0.05},{"row":51,"col":15,"z":-0.2},{"row":51,"col":16,"z":-0.1},{"row":51,"col":17,"z":-0.4},{"row":51,"col":18,"z":-0.35},
{"row":52,"col":1,"z":-0.15},{"row":52,"col":2,"z":-0.4},{"row":52,"col":3,"z":-0.5},{"row":52,"col":4,"z":-0.3},{"row":52,"col":5,"z":-0.45},{"row":52,"col":6,"z":-0.4},{"row":52,"col":7,"z":-0.55},{"row":52,"col":8,"z":-0.55},{"row":52,"col":9,"z":-0.55},{"row":52,"col":10,"z":2},{"row":52,"col":11,"z":2},{"row":52,"col":12,"z":1.7},{"row":52,"col":13,"z":0},{"row":52,"col":14,"z":-0.2},{"row":52,"col":15,"z":-0.05},{"row":52,"col":16,"z":-0.35},{"row":52,"col":17,"z":-0.8},{"row":52,"col":18,"z":-0.7},
{"row":53,"col":1,"z":-0.25},{"row":53,"col":2,"z":-0.5},{"row":53,"col":3,"z":-0.6},{"row":53,"col":4,"z":-0.65},{"row":53,"col":5,"z":-0.65},{"row":53,"col":6,"z":-0.55},{"row":53,"col":7,"z":-0.6},{"row":53,"col":8,"z":-0.55},{"row":53,"col":9,"z":-0.55},{"row":53,"col":10,"z":2},{"row":53,"col":11,"z":2},{"row":53,"col":12,"z":2},{"row":53,"col":13,"z":0},{"row":53,"col":14,"z":-0.5},{"row":53,"col":15,"z":-0.2},{"row":53,"col":16,"z":-0.1},{"row":53,"col":17,"z":-0.1},{"row":53,"col":18,"z":0},
{"row":54,"col":1,"z":-0.7},{"row":54,"col":2,"z":-0.9},{"row":54,"col":3,"z":-0.55},{"row":54,"col":4,"z":-0.4},{"row":54,"col":5,"z":-0.3},{"row":54,"col":6,"z":-0.5},{"row":54,"col":7,"z":-0.7},{"row":54,"col":8,"z":-0.65},{"row":54,"col":9,"z":-0.55},{"row":54,"col":10,"z":2},{"row":54,"col":11,"z":2},{"row":54,"col":12,"z":2},{"row":54,"col":13,"z":0.6},{"row":54,"col":14,"z":-0.1},{"row":54,"col":15,"z":0.2},{"row":54,"col":16,"z":-0.05},{"row":54,"col":17,"z":-0.9},{"row":54,"col":18,"z":-0.4},
{"row":55,"col":1,"z":-0.4},{"row":55,"col":2,"z":-0.35},{"row":55,"col":3,"z":-0.45},{"row":55,"col":4,"z":-0.35},{"row":55,"col":5,"z":-0.35},{"row":55,"col":6,"z":-0.35},{"row":55,"col":7,"z":-0.4},{"row":55,"col":8,"z":-0.4},{"row":55,"col":9,"z":-0.35},{"row":55,"col":10,"z":2},{"row":55,"col":11,"z":2},{"row":55,"col":12,"z":0.5},{"row":55,"col":13,"z":-0.1},{"row":55,"col":14,"z":-0.2},{"row":55,"col":15,"z":-0.35},{"row":55,"col":16,"z":-0.3},{"row":55,"col":17,"z":-0.35},{"row":55,"col":18,"z":-0.4},
{"row":56,"col":1,"z":-0.1},{"row":56,"col":2,"z":-0.15},{"row":56,"col":3,"z":-0.5},{"row":56,"col":4,"z":-0.35},{"row":56,"col":5,"z":-0.45},{"row":56,"col":6,"z":-0.4},{"row":56,"col":7,"z":-0.45},{"row":56,"col":8,"z":-0.45},{"row":56,"col":9,"z":-0.45},{"row":56,"col":10,"z":2},{"row":56,"col":11,"z":2},{"row":56,"col":12,"z":0.7},{"row":56,"col":13,"z":-0.25},{"row":56,"col":14,"z":-0.3},{"row":56,"col":15,"z":-0.4},{"row":56,"col":16,"z":-0.05},{"row":56,"col":17,"z":-0.4},{"row":56,"col":18,"z":-0.45},
{"row":57,"col":1,"z":-0.45},{"row":57,"col":2,"z":-0.55},{"row":57,"col":3,"z":-0.4},{"row":57,"col":4,"z":-0.15},{"row":57,"col":5,"z":-0.4},{"row":57,"col":6,"z":-0.45},{"row":57,"col":7,"z":-0.5},{"row":57,"col":8,"z":-0.5},{"row":57,"col":9,"z":-0.5},{"row":57,"col":10,"z":2},{"row":57,"col":11,"z":1.9},{"row":57,"col":12,"z":1.4},{"row":57,"col":13,"z":-0.03},{"row":57,"col":14,"z":-0.35},{"row":57,"col":15,"z":0},{"row":57,"col":16,"z":-0.4},{"row":57,"col":17,"z":-0.6},{"row":57,"col":18,"z":-0.45},
{"row":58,"col":1,"z":-0.3},{"row":58,"col":2,"z":-0.9},{"row":58,"col":3,"z":-0.6},{"row":58,"col":4,"z":-0.15},{"row":58,"col":5,"z":-1.4},{"row":58,"col":6,"z":-0.3},{"row":58,"col":7,"z":-0.9},{"row":58,"col":8,"z":-0.95},{"row":58,"col":9,"z":-1.4},{"row":58,"col":10,"z":2},{"row":58,"col":11,"z":1.7},{"row":58,"col":12,"z":1.3},{"row":58,"col":13,"z":0.3},{"row":58,"col":14,"z":0.6},{"row":58,"col":15,"z":1.9},{"row":58,"col":16,"z":-0.5},{"row":58,"col":17,"z":-0.5},{"row":58,"col":18,"z":1.2},
{"row":59,"col":1,"z":-0.05},{"row":59,"col":2,"z":-1},{"row":59,"col":3,"z":-0.25},{"row":59,"col":4,"z":1.2},{"row":59,"col":5,"z":-0.4},{"row":59,"col":6,"z":-0.3},{"row":59,"col":7,"z":-1.1},{"row":59,"col":8,"z":-0.9},{"row":59,"col":9,"z":-0.7},{"row":59,"col":10,"z":2},{"row":59,"col":11,"z":1.8},{"row":59,"col":12,"z":1},{"row":59,"col":13,"z":0.3},{"row":59,"col":14,"z":-0.3},{"row":59,"col":15,"z":1.9},{"row":59,"col":16,"z":-1.1},{"row":59,"col":17,"z":-0.7},{"row":59,"col":18,"z":-0.5},
{"row":60,"col":1,"z":0.1},{"row":60,"col":2,"z":0.2},{"row":60,"col":3,"z":-0.7},{"row":60,"col":4,"z":-0.9},{"row":60,"col":5,"z":-0.9},{"row":60,"col":6,"z":-0.45},{"row":60,"col":7,"z":-0.25},{"row":60,"col":8,"z":-0.9},{"row":60,"col":9,"z":-1.1},{"row":60,"col":10,"z":2},{"row":60,"col":11,"z":0.8},{"row":60,"col":12,"z":2},{"row":60,"col":13,"z":1.6},{"row":60,"col":14,"z":0.6},{"row":60,"col":15,"z":0.5},{"row":60,"col":16,"z":-0.7},{"row":60,"col":17,"z":-0.9},{"row":60,"col":18,"z":-1.2},
{"row":61,"col":1,"z":-0.5},{"row":61,"col":2,"z":0},{"row":61,"col":3,"z":-0.8},{"row":61,"col":4,"z":-0.4},{"row":61,"col":5,"z":-0.7},{"row":61,"col":6,"z":-1},{"row":61,"col":7,"z":-0.6},{"row":61,"col":8,"z":-1.2},{"row":61,"col":9,"z":-1},{"row":61,"col":10,"z":2},{"row":61,"col":11,"z":0.9},{"row":61,"col":12,"z":0.4},{"row":61,"col":13,"z":0.5},{"row":61,"col":14,"z":2},{"row":61,"col":15,"z":1.7},{"row":61,"col":16,"z":1.3},{"row":61,"col":17,"z":-0.2},{"row":61,"col":18,"z":-1.1},
{"row":62,"col":1,"z":-1},{"row":62,"col":2,"z":-0.9},{"row":62,"col":3,"z":-0.9},{"row":62,"col":4,"z":-0.7},{"row":62,"col":5,"z":-0.6},{"row":62,"col":6,"z":-1},{"row":62,"col":7,"z":-0.7},{"row":62,"col":8,"z":-0.6},{"row":62,"col":9,"z":-0.3},{"row":62,"col":10,"z":2},{"row":62,"col":11,"z":1.6},{"row":62,"col":12,"z":0.7},{"row":62,"col":13,"z":1.1},{"row":62,"col":14,"z":0.4},{"row":62,"col":15,"z":0.9},{"row":62,"col":16,"z":0},{"row":62,"col":17,"z":0},{"row":62,"col":18,"z":-0.15},
{"row":63,"col":1,"z":-1},{"row":63,"col":2,"z":-0.5},{"row":63,"col":3,"z":-0.8},{"row":63,"col":4,"z":-1.5},{"row":63,"col":5,"z":-0.5},{"row":63,"col":6,"z":-1},{"row":63,"col":7,"z":-0.5},{"row":63,"col":8,"z":-1.1},{"row":63,"col":9,"z":-1.6},{"row":63,"col":10,"z":2},{"row":63,"col":11,"z":2},{"row":63,"col":12,"z":1.3},{"row":63,"col":13,"z":0.7},{"row":63,"col":14,"z":0.4},{"row":63,"col":15,"z":0.6},{"row":63,"col":16,"z":0.5},{"row":63,"col":17,"z":0.6},{"row":63,"col":18,"z":0.3},
{"row":64,"col":1,"z":-0.4},{"row":64,"col":2,"z":2},{"row":64,"col":3,"z":-0.6},{"row":64,"col":4,"z":-0.1},{"row":64,"col":5,"z":0.9},{"row":64,"col":6,"z":0.6},{"row":64,"col":7,"z":1.2},{"row":64,"col":8,"z":-0.7},{"row":64,"col":9,"z":-0.8},{"row":64,"col":10,"z":2},{"row":64,"col":11,"z":-0.05},{"row":64,"col":12,"z":1.5},{"row":64,"col":13,"z":0.03},{"row":64,"col":14,"z":-0.6},{"row":64,"col":15,"z":-0.05},{"row":64,"col":16,"z":-1.2},{"row":64,"col":17,"z":-0.8},{"row":64,"col":18,"z":-2},
{"row":65,"col":1,"z":-0.7},{"row":65,"col":2,"z":0.4},{"row":65,"col":3,"z":-0.25},{"row":65,"col":4,"z":0.3},{"row":65,"col":5,"z":0.7},{"row":65,"col":6,"z":0.35},{"row":65,"col":7,"z":1.2},{"row":65,"col":8,"z":-1.3},{"row":65,"col":9,"z":-1.6},{"row":65,"col":10,"z":2},{"row":65,"col":11,"z":0.15},{"row":65,"col":12,"z":0.8},{"row":65,"col":13,"z":-0.9},{"row":65,"col":14,"z":-1},{"row":65,"col":15,"z":0.2},{"row":65,"col":16,"z":-1.1},{"row":65,"col":17,"z":0.1},{"row":65,"col":18,"z":0},
{"row":66,"col":1,"z":-0.15},{"row":66,"col":2,"z":-0.5},{"row":66,"col":3,"z":-0.3},{"row":66,"col":4,"z":-0.05},{"row":66,"col":5,"z":-0.05},{"row":66,"col":6,"z":-0.25},{"row":66,"col":7,"z":-0.15},{"row":66,"col":8,"z":-0.4},{"row":66,"col":9,"z":-0.2},{"row":66,"col":10,"z":2},{"row":66,"col":11,"z":-0.15},{"row":66,"col":12,"z":-0.3},{"row":66,"col":13,"z":0},{"row":66,"col":14,"z":-0.03},{"row":66,"col":15,"z":0.03},{"row":66,"col":16,"z":-0.15},{"row":66,"col":17,"z":-0.25},{"row":66,"col":18,"z":-0.15}
]},
"hconcat":[
{"vconcat":[
{"width":2186,"height":1227,"view":{"stroke":"#5a5a5a","strokeWidth":3},
"encoding":{"x":{"field":"x","type":"quantitative","scale":{"domain":[-11.68,11.67],"nice":false,"zero":false},"axis":{"title":"t[1]","titleFontSize":10,"titleColor":"#444","titlePadding":18,"values":[-11,-10.5,-10,-9.5,-9,-8.5,-8,-7.5,-7,-6.5,-6,-5.5,-5,-4.5,-4,-3.5,-3,-2.5,-2,-1.5,-1,-0.5,0,0.5,1,1.5,2,2.5,3,3.5,4,4.5,5,5.5,6,6.5,7,7.5,8,8.5,9,9.5,10,10.5,11],"labelExpr":"datum.value % 1 == 0 ? format(datum.value,'d') : ''","labelOverlap":false,"labelFontSize":19,"labelFontWeight":"bold","labelColor":"#5a5a5a","labelFont":"Liberation Sans","tickColor":"#444","tickWidth":3,"tickSize":7,"domain":false,"labelPadding":12}},
"y":{"field":"y","type":"quantitative","scale":{"domain":[-9.48,9.48],"nice":false,"zero":false},"axis":{"title":"t[2]","titleFontSize":10,"titleColor":"#444","titlePadding":8,"values":[-9,-8.5,-8,-7.5,-7,-6.5,-6,-5.5,-5,-4.5,-4,-3.5,-3,-2.5,-2,-1.5,-1,-0.5,0,0.5,1,1.5,2,2.5,3,3.5,4,4.5,5,5.5,6,6.5,7,7.5,8,8.5,9],"labelExpr":"datum.value % 1 == 0 ? format(datum.value,'d') : ''","labelOverlap":false,"labelFontSize":19,"labelFontWeight":"bold","labelColor":"#5a5a5a","labelFont":"Liberation Sans","tickColor":"#444","tickWidth":3,"tickSize":7,"domain":false,"labelPadding":2}}},
"data":{"values":[{"sample":"27DPA","tissue":"Pulp","x":-1.12,"y":6.6,"side":"above"},{"sample":"29DPA","tissue":"Pulp","x":0.58,"y":7.17,"side":"rightup"},{"sample":"26DPA","tissue":"Pulp","x":0.98,"y":2.86,"side":"right"},{"sample":"25DPA","tissue":"Pulp","x":2.9,"y":2.68,"side":"right"},{"sample":"23DPA","tissue":"Pulp","x":1.25,"y":1.73,"side":"rightup"},{"sample":"21DPA","tissue":"Pulp","x":1.86,"y":1.31,"side":"right"},{"sample":"19DPA","tissue":"Pulp","x":4.6,"y":-1.75,"side":"right"},{"sample":"10DPA","tissue":"Pulp","x":7.71,"y":-3.08,"side":"left"},{"sample":"16DPA","tissue":"Pulp","x":8.17,"y":-3.04,"side":"right"},{"sample":"29DPA","tissue":"Peel","x":-3.46,"y":-0.68,"side":"above"},{"sample":"26DPA","tissue":"Peel","x":-2.9,"y":-0.82,"side":"right"},{"sample":"27DPA","tissue":"Peel","x":-3.71,"y":-1.36,"side":"aboveleft"},{"sample":"23DPA","tissue":"Peel","x":-2.91,"y":-1.3,"side":"right"},{"sample":"16DPA","tissue":"Peel","x":-3.14,"y":-1.7,"side":"right"},{"sample":"25DPA","tissue":"Peel","x":-2.01,"y":-1.76,"side":"right"},{"sample":"19DPA","tissue":"Peel","x":-2.98,"y":-2.19,"side":"left"},{"sample":"21DPA","tissue":"Peel","x":-2.85,"y":-2.21,"side":"right"},{"sample":"10DPA","tissue":"Peel","x":-3.32,"y":-2.61,"side":"right"}]},
"layer":[
{"data":{"values":[{"x":0}]},"mark":{"type":"rule","color":"#5a5a5a","strokeWidth":3},"encoding":{"y":null}},
{"data":{"values":[{"y":0}]},"mark":{"type":"rule","color":"#5a5a5a","strokeWidth":3},"encoding":{"x":null}},
{"data":{"values":[{"k":0,"x":10.63,"y":0},{"k":10,"x":10.47,"y":1.5},{"k":20,"x":9.99,"y":2.95},{"k":30,"x":9.21,"y":4.32},{"k":40,"x":8.14,"y":5.55},{"k":50,"x":6.83,"y":6.62},{"k":60,"x":5.32,"y":7.48},{"k":70,"x":3.64,"y":8.12},{"k":80,"x":1.85,"y":8.51},{"k":90,"x":0,"y":8.64},{"k":100,"x":-1.85,"y":8.51},{"k":110,"x":-3.64,"y":8.12},{"k":120,"x":-5.32,"y":7.48},{"k":130,"x":-6.83,"y":6.62},{"k":140,"x":-8.14,"y":5.55},{"k":150,"x":-9.21,"y":4.32},{"k":160,"x":-9.99,"y":2.95},{"k":170,"x":-10.47,"y":1.5},{"k":180,"x":-10.63,"y":0},{"k":190,"x":-10.47,"y":-1.5},{"k":200,"x":-9.99,"y":-2.95},{"k":210,"x":-9.21,"y":-4.32},{"k":220,"x":-8.14,"y":-5.55},{"k":230,"x":-6.83,"y":-6.62},{"k":240,"x":-5.32,"y":-7.48},{"k":250,"x":-3.64,"y":-8.12},{"k":260,"x":-1.85,"y":-8.51},{"k":270,"x":0,"y":-8.64},{"k":280,"x":1.85,"y":-8.51},{"k":290,"x":3.64,"y":-8.12},{"k":300,"x":5.32,"y":-7.48},{"k":310,"x":6.83,"y":-6.62},{"k":320,"x":8.14,"y":-5.55},{"k":330,"x":9.21,"y":-4.32},{"k":340,"x":9.99,"y":-2.95},{"k":350,"x":10.47,"y":-1.5},{"k":360,"x":10.63,"y":0}]},"mark":{"type":"line","color":"#5f5f5f","strokeWidth":3,"interpolate":"cardinal"},"encoding":{"order":{"field":"k","type":"quantitative"}}},
{"mark":{"type":"point","filled":true,"size":200,"opacity":1},"encoding":{"color":{"field":"tissue","type":"nominal","scale":{"domain":["Peel","Pulp"],"range":["black","red"]},"legend":null},"shape":{"field":"tissue","type":"nominal","scale":{"domain":["Peel","Pulp"],"range":["square","circle"]},"legend":null}}},
{"data":{"values":[{"tissue":"Peel","x":10.51,"y":8.3},{"tissue":"Pulp","x":10.51,"y":7.7}]},"mark":{"type":"point","filled":true,"size":140,"opacity":1},"encoding":{"color":{"field":"tissue","type":"nominal","legend":null},"shape":{"field":"tissue","type":"nominal","legend":null}}},
{"data":{"values":[{"tissue":"Peel","x":10.75,"y":8.3},{"tissue":"Pulp","x":10.75,"y":7.7}]},"mark":{"type":"text","font":"Liberation Serif","fontSize":38,"color":"black","align":"left"},"encoding":{"text":{"field":"tissue"}}},
{"transform":[{"filter":"datum.tissue=='Pulp' && datum.side=='right'"}],"mark":{"type":"text","font":"Liberation Serif","fontWeight":"bold","fontSize":27,"color":"red","align":"left","dx":19,"dy":1},"encoding":{"text":{"field":"sample"}}},
{"transform":[{"filter":"datum.tissue=='Pulp' && datum.side=='rightup'"}],"mark":{"type":"text","font":"Liberation Serif","fontWeight":"bold","fontSize":27,"color":"red","align":"left","dx":19,"dy":-12},"encoding":{"text":{"field":"sample"}}},
{"transform":[{"filter":"datum.tissue=='Pulp' && datum.side=='left'"}],"mark":{"type":"text","font":"Liberation Serif","fontWeight":"bold","fontSize":27,"color":"red","align":"right","dx":-25,"dy":-1},"encoding":{"text":{"field":"sample"}}},
{"transform":[{"filter":"datum.tissue=='Pulp' && datum.side=='above'"}],"mark":{"type":"text","font":"Liberation Serif","fontWeight":"bold","fontSize":27,"color":"red","align":"left","dx":0,"dy":-34},"encoding":{"text":{"field":"sample"}}},
{"transform":[{"filter":"datum.tissue=='Peel' && datum.side=='right'"}],"mark":{"type":"text","font":"Liberation Serif","fontWeight":"bold","fontSize":27,"color":"black","align":"left","dx":9,"dy":3},"encoding":{"text":{"field":"sample"}}},
{"transform":[{"filter":"datum.tissue=='Peel' && datum.side=='left'"}],"mark":{"type":"text","font":"Liberation Serif","fontWeight":"bold","fontSize":27,"color":"black","align":"right","dx":-18,"dy":-3},"encoding":{"text":{"field":"sample"}}},
{"transform":[{"filter":"datum.tissue=='Peel' && datum.side=='above'"}],"mark":{"type":"text","font":"Liberation Serif","fontWeight":"bold","fontSize":27,"color":"black","align":"left","dx":-7,"dy":-26},"encoding":{"text":{"field":"sample"}}},
{"transform":[{"filter":"datum.side=='aboveleft'"}],"mark":{"type":"text","font":"Liberation Serif","fontWeight":"bold","fontSize":27,"color":"black","align":"right","dx":10,"dy":-25},"encoding":{"text":{"field":"sample"}}},
{"data":{"values":[{"label":"A","x":-12.77,"y":8.05}]},"mark":{"type":"text","font":"Liberation Serif","fontSize":96,"align":"left","baseline":"alphabetic","color":"black"},"encoding":{"text":{"field":"label"}}}
]},
{"hconcat":[
{"width":980,"height":1156,
"encoding":{"x":{"field":"x","type":"quantitative","axis":null,"scale":{"domain":[171,1568],"nice":false,"zero":false}},"y":{"field":"y","type":"quantitative","axis":null,"scale":{"domain":[1568,0],"nice":false,"zero":false}}},
"layer":[
{"data":{"values":[{"x":190,"y":305,"x2":925,"y2":293},{"x":195,"y":465,"x2":922,"y2":435},{"x":205,"y":627,"x2":920,"y2":575},{"x":210,"y":775,"x2":918,"y2":712},{"x":215,"y":930,"x2":915,"y2":850},{"x":245,"y":1065,"x2":912,"y2":1038},{"x":925,"y":293,"x2":1380,"y2":335},{"x":922,"y":435,"x2":1370,"y2":523},{"x":920,"y":575,"x2":1360,"y2":712},{"x":918,"y":712,"x2":1345,"y2":895},{"x":915,"y":850,"x2":1345,"y2":1075},{"x":243,"y":240,"x2":268,"y2":1060},{"x":352,"y":240,"x2":372,"y2":1080},{"x":456,"y":240,"x2":478,"y2":1100},{"x":562,"y":240,"x2":572,"y2":1090},{"x":662,"y":240,"x2":668,"y2":1075},{"x":762,"y":240,"x2":764,"y2":1060},{"x":857,"y":240,"x2":850,"y2":1045},{"x":1035,"y":240,"x2":1020,"y2":1110},{"x":1140,"y":240,"x2":1115,"y2":1170},{"x":1258,"y":240,"x2":1225,"y2":1245},{"x":360,"y":1125,"x2":500,"y2":1500},{"x":478,"y":1105,"x2":640,"y2":1475},{"x":572,"y":1090,"x2":780,"y2":1445},{"x":668,"y":1075,"x2":905,"y2":1415},{"x":764,"y":1060,"x2":1025,"y2":1395},{"x":850,"y":1045,"x2":1140,"y2":1360},{"x":1020,"y":1110,"x2":275,"y2":1230},{"x":1115,"y":1170,"x2":325,"y2":1310},{"x":1225,"y":1245,"x2":380,"y2":1415},{"x":1250,"y":1330,"x2":465,"y2":1460}]},"mark":{"type":"rule","color":"#cacaca","strokeWidth":2.5},"encoding":{"x2":{"field":"x2"},"y2":{"field":"y2"}}},
{"data":{"values":[{"x":220,"y":1140,"x2":915,"y2":1038},{"x":915,"y":1038,"x2":1335,"y2":1325},{"x":922,"y":235,"x2":915,"y2":1038}]},"mark":{"type":"rule","color":"black","strokeWidth":4},"encoding":{"x2":{"field":"x2"},"y2":{"field":"y2"}}},
{"data":{"values":[{"label":"4000","x":245,"y":192,"tier":"s"},{"label":"3000","x":350,"y":192,"tier":"s"},{"label":"2000","x":450,"y":192,"tier":"s"},{"label":"10000","x":570,"y":192,"tier":"s"},{"label":"-1000","x":760,"y":195,"tier":"s"},{"label":"2000","x":868,"y":192,"tier":"s"},{"label":"-2000","x":990,"y":222,"tier":"s"},{"label":"1000","x":1100,"y":222,"tier":"s"},{"label":"0","x":1155,"y":225,"tier":"s"},{"label":"1000","x":1315,"y":222,"tier":"m"},{"label":"2000","x":270,"y":287,"tier":"s"},{"label":"1000","x":278,"y":445,"tier":"s"},{"label":"0","x":238,"y":603,"tier":"s"},{"label":"-1000","x":288,"y":752,"tier":"s"},{"label":"-2000","x":293,"y":907,"tier":"s"},{"label":"-3000","x":300,"y":1050,"tier":"s"},{"label":"-2000","x":285,"y":1135,"tier":"s"},{"label":"2000","x":1470,"y":308,"tier":"l"},{"label":"1000","x":1462,"y":495,"tier":"l"},{"label":"0","x":1393,"y":687,"tier":"l"},{"label":"-1000","x":1445,"y":870,"tier":"m"},{"label":"-2000","x":1435,"y":1047,"tier":"m"},{"label":"3000","x":1440,"y":1218,"tier":"m"},{"label":"2000","x":1285,"y":1285,"tier":"m"},{"label":"1000","x":1160,"y":1310,"tier":"m"},{"label":"-1000","x":338,"y":1210,"tier":"s"},{"label":"0","x":335,"y":1288,"tier":"m"},{"label":"1000","x":448,"y":1388,"tier":"l"},{"label":"4000","x":516,"y":1443,"tier":"l"},{"label":"3000","x":660,"y":1415,"tier":"l"},{"label":"2000","x":795,"y":1388,"tier":"l"},{"label":"1000","x":920,"y":1360,"tier":"l"},{"label":"0","x":988,"y":1335,"tier":"l"}]},"mark":{"type":"text","font":"Open Sans","color":"#c4c4c4"},"encoding":{"text":{"field":"label"},"size":{"field":"tier","type":"ordinal","scale":{"domain":["s","m","l"],"range":[32,38,44]},"legend":null}}},
{"data":{"values":[{"label":"Y-Axis","x":1030,"y":175},{"label":"Z-Axis","x":1435,"y":1265},{"label":"X-Axis","x":360,"y":1108}]},"mark":{"type":"text","font":"Open Sans","fontWeight":"bold","fontSize":50,"color":"black"},"encoding":{"text":{"field":"label"}}},
{"data":{"values":[{"group":"red","x":1205,"y":252,"d":60},{"group":"red","x":1193,"y":297,"d":50},{"group":"red","x":1228,"y":260,"d":62},{"group":"blue","x":1088,"y":506,"d":56},{"group":"blue","x":1130,"y":498,"d":56},{"group":"blue","x":1118,"y":495,"d":50},{"group":"navy","x":320,"y":545,"d":62},{"group":"navy","x":396,"y":520,"d":62},{"group":"navy","x":380,"y":563,"d":70},{"group":"cyan","x":510,"y":574,"d":56},{"group":"cyan","x":536,"y":614,"d":66},{"group":"cyan","x":516,"y":717,"d":66},{"group":"magenta","x":656,"y":654,"d":34},{"group":"magenta","x":678,"y":660,"d":32},{"group":"magenta","x":687,"y":740,"d":44},{"group":"gray","x":737,"y":688,"d":32},{"group":"gray","x":760,"y":712,"d":40},{"group":"gray","x":772,"y":706,"d":42},{"group":"green","x":893,"y":717,"d":44},{"group":"green","x":878,"y":758,"d":44},{"group":"green","x":848,"y":808,"d":44},{"group":"maroon","x":943,"y":557,"d":42},{"group":"maroon","x":940,"y":597,"d":44},{"group":"maroon","x":925,"y":612,"d":42},{"group":"red","x":1082,"y":1266,"d":60},{"group":"red","x":1118,"y":1290,"d":62},{"group":"red","x":1058,"y":1313,"d":64}]},
"layer":[
{"mark":{"type":"point","filled":true,"opacity":1,"strokeWidth":3},"encoding":{"size":{"field":"d","type":"quantitative","scale":{"type":"pow","exponent":2,"domain":[0,100],"range":[0,5100]},"legend":null},"fill":{"field":"group","type":"nominal","scale":{"domain":["red","vivid","blue","navy","cyan","magenta","gray","green","maroon"],"range":["#f03c3c","#ff1414","#3a3ae0","#4a4a9c","#00e6e6","#ff40e0","#9a9a9a","#1f9a4a","#a04848"]},"legend":null},"stroke":{"field":"group","type":"nominal","scale":{"domain":["red","vivid","blue","navy","cyan","magenta","gray","green","maroon"],"range":["#d01818","#e00000","#1515c8","#141470","#00b8b8","#d000c0","#606060","#006a20","#701818"]},"legend":null}}},
{"mark":{"type":"point","filled":true,"opacity":1,"strokeWidth":0,"fill":{"gradient":"radial","x1":0.55,"y1":0.5,"r1":0,"x2":0.55,"y2":0.5,"r2":0.5,"stops":[{"offset":0,"color":"rgba(255,255,255,0.6)"},{"offset":1,"color":"rgba(255,255,255,0)"}]}},"encoding":{"size":{"field":"d","type":"quantitative","scale":{"type":"pow","exponent":2,"domain":[0,100],"range":[0,5100]},"legend":null}}}
]},
{"data":{"values":[{"label":"B","x":72,"y":108}]},"mark":{"type":"text","font":"Liberation Serif","fontSize":96,"align":"left","baseline":"alphabetic","color":"black"},"encoding":{"text":{"field":"label"}}}
]},
{"width":1150,"height":1156,
"encoding":{"x":{"field":"x","type":"quantitative","axis":null,"scale":{"domain":[0,1568],"nice":false,"zero":false}},"y":{"field":"y","type":"quantitative","axis":null,"scale":{"domain":[1568,0],"nice":false,"zero":false}}},
"layer":[
{"data":{"values":[{"x":170,"y":238,"x2":868,"y2":235},{"x":180,"y":485,"x2":865,"y2":443},{"x":190,"y":722,"x2":865,"y2":648},{"x":195,"y":952,"x2":865,"y2":853},{"x":868,"y":235,"x2":1375,"y2":238},{"x":865,"y":443,"x2":1368,"y2":520},{"x":865,"y":648,"x2":1355,"y2":795},{"x":865,"y":853,"x2":1342,"y2":1050},{"x":197,"y":238,"x2":225,"y2":1150},{"x":352,"y":238,"x2":378,"y2":1130},{"x":505,"y":238,"x2":520,"y2":1110},{"x":642,"y":238,"x2":650,"y2":1085},{"x":775,"y":238,"x2":775,"y2":1060},{"x":898,"y":238,"x2":880,"y2":1050},{"x":1012,"y":238,"x2":988,"y2":1110},{"x":1135,"y":238,"x2":1110,"y2":1175},{"x":1285,"y":238,"x2":1245,"y2":1250},{"x":225,"y":1165,"x2":565,"y2":1530},{"x":378,"y":1135,"x2":750,"y2":1470},{"x":520,"y":1110,"x2":925,"y2":1418},{"x":650,"y":1085,"x2":1085,"y2":1370},{"x":775,"y":1060,"x2":1230,"y2":1332},{"x":988,"y":1110,"x2":295,"y2":1265},{"x":1110,"y":1175,"x2":375,"y2":1360},{"x":1245,"y":1250,"x2":475,"y2":1465}]},"mark":{"type":"rule","color":"#cacaca","strokeWidth":2.5},"encoding":{"x2":{"field":"x2"},"y2":{"field":"y2"}}},
{"data":{"values":[{"x":205,"y":1172,"x2":862,"y2":1040},{"x":862,"y":1040,"x2":1335,"y2":1302},{"x":868,"y":225,"x2":862,"y2":1040}]},"mark":{"type":"rule","color":"black","strokeWidth":4},"encoding":{"x2":{"field":"x2"},"y2":{"field":"y2"}}},
{"data":{"values":[{"label":"4000","x":203,"y":182,"tier":"m"},{"label":"2000","x":358,"y":182,"tier":"m"},{"label":"0","x":462,"y":182,"tier":"m"},{"label":"-2000","x":645,"y":182,"tier":"s"},{"label":"-4000","x":778,"y":178,"tier":"s"},{"label":"-10000","x":960,"y":208,"tier":"s"},{"label":"1000","x":1193,"y":212,"tier":"m"},{"label":"2000","x":1337,"y":212,"tier":"m"},{"label":"2000","x":1455,"y":215,"tier":"m"},{"label":"2000","x":250,"y":218,"tier":"m"},{"label":"1000","x":263,"y":462,"tier":"m"},{"label":"0","x":228,"y":700,"tier":"m"},{"label":"-1000","x":272,"y":930,"tier":"s"},{"label":"-3000","x":290,"y":1170,"tier":"s"},{"label":"1000","x":1445,"y":495,"tier":"m"},{"label":"0","x":1390,"y":768,"tier":"m"},{"label":"-1000","x":1430,"y":1025,"tier":"m"},{"label":"0","x":305,"y":1252,"tier":"m"},{"label":"1000","x":430,"y":1335,"tier":"m"},{"label":"2000","x":535,"y":1435,"tier":"l"},{"label":"-4000","x":580,"y":1470,"tier":"l"},{"label":"2000","x":765,"y":1415,"tier":"l"},{"label":"0","x":890,"y":1360,"tier":"l"},{"label":"-2000","x":1098,"y":1317,"tier":"m"},{"label":"-4000","x":1245,"y":1275,"tier":"m"}]},"mark":{"type":"text","font":"Open Sans","color":"#c4c4c4"},"encoding":{"text":{"field":"label"},"size":{"field":"tier","type":"ordinal","scale":{"domain":["s","m","l"],"range":[32,38,44]},"legend":null}}},
{"data":{"values":[{"label":"Y-Axis","x":973,"y":165},{"label":"Z-Axis","x":1430,"y":1238},{"label":"X-Axis","x":335,"y":1140}]},"mark":{"type":"text","font":"Open Sans","fontWeight":"bold","fontSize":50,"color":"black"},"encoding":{"text":{"field":"label"}}},
{"data":{"values":[{"group":"gray","x":393,"y":321,"d":44},{"group":"gray","x":436,"y":403,"d":44},{"group":"gray","x":465,"y":478,"d":44},{"group":"magenta","x":648,"y":240,"d":30},{"group":"magenta","x":665,"y":235,"d":48},{"group":"magenta","x":745,"y":315,"d":44},{"group":"green","x":632,"y":250,"d":42},{"group":"green","x":637,"y":263,"d":42},{"group":"green","x":750,"y":368,"d":56},{"group":"maroon","x":320,"y":745,"d":48},{"group":"maroon","x":336,"y":783,"d":48},{"group":"maroon","x":305,"y":778,"d":54},{"group":"blue","x":335,"y":1005,"d":50},{"group":"blue","x":330,"y":1020,"d":40},{"group":"blue","x":305,"y":1015,"d":56},{"group":"vivid","x":310,"y":1122,"d":50},{"group":"vivid","x":308,"y":1135,"d":50},{"group":"vivid","x":315,"y":1140,"d":62},{"group":"red","x":1048,"y":677,"d":52},{"group":"red","x":1215,"y":765,"d":62},{"group":"red","x":1151,"y":817,"d":62},{"group":"cyan","x":850,"y":900,"d":30},{"group":"cyan","x":832,"y":886,"d":32},{"group":"cyan","x":935,"y":951,"d":34},{"group":"navy","x":731,"y":1038,"d":32},{"group":"navy","x":838,"y":1038,"d":34},{"group":"navy","x":823,"y":1075,"d":32}]},
"layer":[
{"mark":{"type":"point","filled":true,"opacity":1,"strokeWidth":3},"encoding":{"size":{"field":"d","type":"quantitative","scale":{"type":"pow","exponent":2,"domain":[0,100],"range":[0,5100]},"legend":null},"fill":{"field":"group","type":"nominal","scale":{"domain":["red","vivid","blue","navy","cyan","magenta","gray","green","maroon"],"range":["#f03c3c","#ff1414","#3a3ae0","#4a4a9c","#00e6e6","#ff40e0","#9a9a9a","#1f9a4a","#a04848"]},"legend":null},"stroke":{"field":"group","type":"nominal","scale":{"domain":["red","vivid","blue","navy","cyan","magenta","gray","green","maroon"],"range":["#d01818","#e00000","#1515c8","#141470","#00b8b8","#d000c0","#606060","#006a20","#701818"]},"legend":null}}},
{"mark":{"type":"point","filled":true,"opacity":1,"strokeWidth":0,"fill":{"gradient":"radial","x1":0.55,"y1":0.5,"r1":0,"x2":0.55,"y2":0.5,"r2":0.5,"stops":[{"offset":0,"color":"rgba(255,255,255,0.6)"},{"offset":1,"color":"rgba(255,255,255,0)"}]}},"encoding":{"size":{"field":"d","type":"quantitative","scale":{"type":"pow","exponent":2,"domain":[0,100],"range":[0,5100]},"legend":null}}}
]},
{"data":{"values":[{"label":"C","x":30,"y":140}]},"mark":{"type":"text","font":"Liberation Serif","fontSize":96,"align":"left","baseline":"alphabetic","color":"black"},"encoding":{"text":{"field":"label"}}}
]}
],"spacing":0,"bounds":"flush"}
],"spacing":56,"bounds":"flush"},
{"width":1203,"height":2439,
"layer":[
{"data":{"name":"rowTree"},"mark":{"type":"rule","color":"#5a60b8","strokeWidth":2.5},"encoding":{"x":{"field":"m","type":"quantitative","axis":null,"scale":{"domain":[-7.12,32.12],"nice":false,"zero":false}},"y":{"field":"a","type":"quantitative","axis":null,"scale":{"domain":[67.32,-12.13],"nice":false,"zero":false}},"y2":{"field":"b"}}},
{"data":{"name":"rowTree"},"mark":{"type":"rule","color":"#5a60b8","strokeWidth":2.5},"encoding":{"x":{"field":"xa","type":"quantitative"},"x2":{"field":"m"},"y":{"field":"a","type":"quantitative"}}},
{"data":{"name":"rowTree"},"mark":{"type":"rule","color":"#5a60b8","strokeWidth":2.5},"encoding":{"x":{"field":"xb","type":"quantitative"},"x2":{"field":"m"},"y":{"field":"b","type":"quantitative"}}},
{"data":{"name":"colTree"},"mark":{"type":"rule","color":"#5a60b8","strokeWidth":2.5},"encoding":{"y":{"field":"m","type":"quantitative"},"x":{"field":"a","type":"quantitative"},"x2":{"field":"b"}}},
{"data":{"name":"colTree"},"mark":{"type":"rule","color":"#5a60b8","strokeWidth":2.5},"encoding":{"x":{"field":"a","type":"quantitative"},"y":{"field":"ya","type":"quantitative"},"y2":{"field":"m"}}},
{"data":{"name":"colTree"},"mark":{"type":"rule","color":"#5a60b8","strokeWidth":2.5},"encoding":{"x":{"field":"b","type":"quantitative"},"y":{"field":"yb","type":"quantitative"},"y2":{"field":"m"}}},
{"data":{"values":[{"x":18.86,"x2":18.86,"y":-4.48,"y2":0.45},{"x":18.86,"x2":19,"y":-4.48,"y2":-4.48},{"x":18.86,"x2":19,"y":-2.07,"y2":-2.07},{"x":18.86,"x2":19,"y":0.45,"y2":0.45},{"x":-4.51,"x2":0.5,"y":0.25,"y2":0.25},{"x":-4.51,"x2":-4.51,"y":0.25,"y2":0.01},{"x":-2.01,"x2":-2.01,"y":0.25,"y2":0.01},{"x":0.5,"x2":0.5,"y":0.25,"y2":0.01}]},"mark":{"type":"rule","color":"#666666","strokeWidth":2},"encoding":{"x":{"field":"x","type":"quantitative"},"x2":{"field":"x2"},"y":{"field":"y","type":"quantitative"},"y2":{"field":"y2"}}},
{"data":{"values":[{"x":19.24,"y":-4.23,"label":"-0.24193466"},{"x":19.24,"y":-2.07,"label":"0.37903267"},{"x":19.24,"y":0.23,"label":"1.0"}]},"mark":{"type":"text","font":"Liberation Sans","fontSize":19,"color":"#666666","align":"left"},"encoding":{"x":{"field":"x","type":"quantitative"},"y":{"field":"y","type":"quantitative"},"text":{"field":"label"}}},
{"data":{"values":[{"x":-4.24,"y":-0.27,"label":"-0.129596"},{"x":-2.01,"y":-0.27,"label":"0.435202"},{"x":0.22,"y":-0.27,"label":"1.0"}]},"mark":{"type":"text","font":"Liberation Sans","fontSize":19,"color":"#666666","align":"left","angle":270},"encoding":{"x":{"field":"x","type":"quantitative"},"y":{"field":"y","type":"quantitative"},"text":{"field":"label"}}},
{"data":{"name":"cells"},"mark":{"type":"square","size":812,"stroke":"black","strokeWidth":2.5,"opacity":1},"encoding":{"x":{"field":"col","type":"quantitative"},"y":{"field":"row","type":"quantitative"},"color":{"field":"z","type":"quantitative","scale":{"domain":[-2,0,2],"range":["#00ff00","#000000","#ff0000"],"interpolate":"rgb"},"legend":{"title":null,"orient":"none","legendX":233.6,"legendY":2,"direction":"horizontal","gradientLength":552,"gradientThickness":23,"values":[-2,0,2],"format":".1f","labelFont":"Liberation Serif","labelFontSize":30,"labelColor":"black","labelOffset":12}}}},
{"data":{"name":"samples"},"mark":{"type":"text","font":"Liberation Serif","fontSize":30,"color":"black","angle":270,"align":"left"},"encoding":{"x":{"field":"col","type":"quantitative"},"y":{"datum":-4.65},"text":{"field":"name"}}},
{"data":{"name":"metabolites"},"mark":{"type":"text","font":"Liberation Serif","fontSize":30,"color":"black","align":"left","dy":3},"encoding":{"x":{"datum":19},"y":{"field":"row","type":"quantitative"},"text":{"field":"name"}}},
{"data":{"values":[{"x":19.89,"y":-10.3,"label":"Row Z-score"}]},"mark":{"type":"text","font":"Liberation Serif","fontWeight":"bold","fontSize":30,"color":"black","align":"left"},"encoding":{"x":{"field":"x","type":"quantitative"},"y":{"field":"y","type":"quantitative"},"text":{"field":"label"}}},
{"data":{"values":[{"x":-5.68,"y":-8.25,"label":"D"}]},"mark":{"type":"text","font":"Liberation Serif","fontSize":96,"align":"left","baseline":"alphabetic","color":"black"},"encoding":{"x":{"field":"x","type":"quantitative"},"y":{"field":"y","type":"quantitative"},"text":{"field":"label"}}}
]}
],"spacing":49}
